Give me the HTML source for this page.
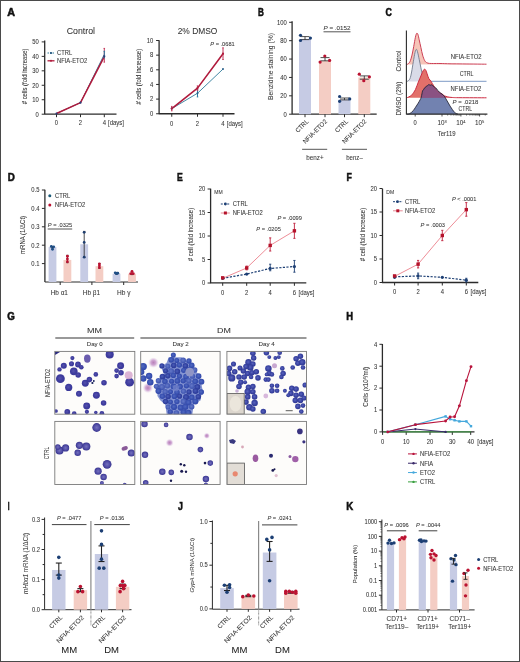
<!DOCTYPE html>
<html><head><meta charset="utf-8"><style>
html,body{margin:0;padding:0;background:#fff;}
svg{display:block;will-change:transform;}
text{font-family:"Liberation Sans", sans-serif;}
</style></head><body>
<svg width="520" height="662" viewBox="0 0 520 662" font-family='"Liberation Sans", sans-serif'>
<defs><radialGradient id="gv" cx="0.45" cy="0.45" r="0.6"><stop offset="0" stop-color="#5552ad"/><stop offset="0.55" stop-color="#3e3c9e"/><stop offset="1" stop-color="#3a3898"/></radialGradient>
<radialGradient id="gb" cx="0.45" cy="0.45" r="0.6"><stop offset="0" stop-color="#5068c0"/><stop offset="0.6" stop-color="#3850b0"/><stop offset="1" stop-color="#3448a8"/></radialGradient>
<radialGradient id="gb2" cx="0.45" cy="0.45" r="0.6"><stop offset="0" stop-color="#6478c8"/><stop offset="0.6" stop-color="#4a60b8"/><stop offset="1" stop-color="#3c50aa"/></radialGradient>
<radialGradient id="gp" cx="0.5" cy="0.5" r="0.5"><stop offset="0" stop-color="#b880b8"/><stop offset="0.5" stop-color="#d0a8d4"/><stop offset="1" stop-color="#eadcee" stop-opacity="0.2"/></radialGradient>
<radialGradient id="gd4" cx="0.45" cy="0.45" r="0.6"><stop offset="0" stop-color="#5862bc"/><stop offset="0.55" stop-color="#3a44a2"/><stop offset="1" stop-color="#2e3690"/></radialGradient>
<radialGradient id="gb3" cx="0.45" cy="0.45" r="0.6"><stop offset="0" stop-color="#4a5cb8"/><stop offset="0.6" stop-color="#3242a0"/><stop offset="1" stop-color="#2c3a98"/></radialGradient>
<radialGradient id="gl" cx="0.5" cy="0.5" r="0.5"><stop offset="0" stop-color="#7470bc"/><stop offset="0.55" stop-color="#5652aa"/><stop offset="1" stop-color="#3a3690"/></radialGradient><clipPath id="cl00"><rect x="54.8" y="351.4" width="80.00000000000001" height="62.80000000000001"/></clipPath><clipPath id="cl01"><rect x="140.7" y="351.4" width="79.4" height="62.80000000000001"/></clipPath><clipPath id="cl02"><rect x="226.9" y="351.4" width="79.6" height="62.80000000000001"/></clipPath><clipPath id="cl10"><rect x="54.8" y="421.4" width="80.00000000000001" height="63.10000000000002"/></clipPath><clipPath id="cl11"><rect x="140.7" y="421.4" width="79.4" height="63.10000000000002"/></clipPath><clipPath id="cl12"><rect x="226.9" y="421.4" width="79.6" height="63.10000000000002"/></clipPath></defs>
<rect x="0" y="0" width="520" height="662" fill="#fff"/>
<text transform="translate(7.17,15.80) scale(0.987,1)" x="-0.00" y="0" font-size="10.9" font-weight="bold" fill="#111" stroke="#111" stroke-width="0.55">A</text>
<text x="80.90" y="33.61" font-size="9.2" text-anchor="middle" fill="#333" stroke="#333" stroke-width="0.06" textLength="28.20" lengthAdjust="spacingAndGlyphs">Control</text>
<line x1="44.70" y1="40.50" x2="44.70" y2="114.20" stroke="#2b2b2b" stroke-width="1.3"/>
<line x1="41.70" y1="114.20" x2="44.70" y2="114.20" stroke="#2b2b2b" stroke-width="1"/>
<text x="38.70" y="116.50" font-size="6.4" text-anchor="end" fill="#363636" stroke="#363636" stroke-width="0.06" textLength="3.27" lengthAdjust="spacingAndGlyphs">0</text>
<line x1="41.70" y1="99.74" x2="44.70" y2="99.74" stroke="#2b2b2b" stroke-width="1"/>
<text x="38.70" y="102.04" font-size="6.4" text-anchor="end" fill="#363636" stroke="#363636" stroke-width="0.06" textLength="6.55" lengthAdjust="spacingAndGlyphs">10</text>
<line x1="41.70" y1="85.28" x2="44.70" y2="85.28" stroke="#2b2b2b" stroke-width="1"/>
<text x="38.70" y="87.58" font-size="6.4" text-anchor="end" fill="#363636" stroke="#363636" stroke-width="0.06" textLength="6.55" lengthAdjust="spacingAndGlyphs">20</text>
<line x1="41.70" y1="70.82" x2="44.70" y2="70.82" stroke="#2b2b2b" stroke-width="1"/>
<text x="38.70" y="73.12" font-size="6.4" text-anchor="end" fill="#363636" stroke="#363636" stroke-width="0.06" textLength="6.55" lengthAdjust="spacingAndGlyphs">30</text>
<line x1="41.70" y1="56.36" x2="44.70" y2="56.36" stroke="#2b2b2b" stroke-width="1"/>
<text x="38.70" y="58.66" font-size="6.4" text-anchor="end" fill="#363636" stroke="#363636" stroke-width="0.06" textLength="6.55" lengthAdjust="spacingAndGlyphs">40</text>
<line x1="41.70" y1="41.90" x2="44.70" y2="41.90" stroke="#2b2b2b" stroke-width="1"/>
<text x="38.70" y="44.20" font-size="6.4" text-anchor="end" fill="#363636" stroke="#363636" stroke-width="0.06" textLength="6.55" lengthAdjust="spacingAndGlyphs">50</text>
<line x1="44.50" y1="114.20" x2="116.50" y2="114.20" stroke="#2b2b2b" stroke-width="1.3"/>
<line x1="56.50" y1="114.20" x2="56.50" y2="117.20" stroke="#2b2b2b" stroke-width="1"/>
<text x="56.50" y="125.30" font-size="6.4" text-anchor="middle" fill="#363636" stroke="#363636" stroke-width="0.06" textLength="3.27" lengthAdjust="spacingAndGlyphs">0</text>
<line x1="80.50" y1="114.20" x2="80.50" y2="117.20" stroke="#2b2b2b" stroke-width="1"/>
<text x="80.50" y="125.30" font-size="6.4" text-anchor="middle" fill="#363636" stroke="#363636" stroke-width="0.06" textLength="3.27" lengthAdjust="spacingAndGlyphs">2</text>
<line x1="104.30" y1="114.20" x2="104.30" y2="117.20" stroke="#2b2b2b" stroke-width="1"/>
<text x="104.30" y="125.34" font-size="6.5" text-anchor="middle" fill="#363636" stroke="#363636" stroke-width="0.06" textLength="3.33" lengthAdjust="spacingAndGlyphs">4</text>
<text x="108.00" y="125.34" font-size="6.5" text-anchor="start" fill="#363636" stroke="#363636" stroke-width="0.06" textLength="15.95" lengthAdjust="spacingAndGlyphs">[days]</text>
<text x="24.60" y="78.67" font-size="6.3" text-anchor="middle" fill="#363636" stroke="#363636" stroke-width="0.06" textLength="55.80" lengthAdjust="spacingAndGlyphs" transform="rotate(-90 24.60 76.40)"># cells (fold increase)</text>
<line x1="47.50" y1="53.00" x2="54.50" y2="53.00" stroke="#2f7c9b" stroke-width="1" stroke-dasharray="1.5,1"/>
<circle cx="51.00" cy="53.00" r="1.10" fill="#1d4f7a"/>
<text x="57.00" y="55.27" font-size="6.3" text-anchor="start" fill="#363636" stroke="#363636" stroke-width="0.06" textLength="15.13" lengthAdjust="spacingAndGlyphs">CTRL</text>
<line x1="47.50" y1="60.80" x2="54.50" y2="60.80" stroke="#b01a3c" stroke-width="1.3"/>
<circle cx="51.00" cy="60.80" r="1.00" fill="#b01a3c"/>
<text x="57.00" y="63.07" font-size="6.3" text-anchor="start" fill="#363636" stroke="#363636" stroke-width="0.06" textLength="30.16" lengthAdjust="spacingAndGlyphs">NFIA-ETO2</text>
<polyline points="56.50,113.48 80.50,102.63 104.30,54.48" fill="none" stroke="#2f7c9b" stroke-width="1" stroke-linejoin="round"/>
<polyline points="56.50,113.48 80.50,102.63 104.30,56.65" fill="none" stroke="#b01a3c" stroke-width="1.5" stroke-linejoin="round"/>
<line x1="104.30" y1="48.41" x2="104.30" y2="62.14" stroke="#c2375a" stroke-width="1"/>
<line x1="103.55" y1="48.41" x2="105.05" y2="48.41" stroke="#c2375a" stroke-width="1"/>
<line x1="103.55" y1="62.14" x2="105.05" y2="62.14" stroke="#c2375a" stroke-width="1"/>
<line x1="104.30" y1="51.30" x2="104.30" y2="57.81" stroke="#2a7aa0" stroke-width="1"/>
<line x1="103.55" y1="51.30" x2="105.05" y2="51.30" stroke="#2a7aa0" stroke-width="1"/>
<line x1="103.55" y1="57.81" x2="105.05" y2="57.81" stroke="#2a7aa0" stroke-width="1"/>
<circle cx="56.50" cy="113.48" r="1.10" fill="#2a3f7a"/>
<circle cx="80.50" cy="102.63" r="1.10" fill="#2a3f7a"/>
<circle cx="104.30" cy="56.36" r="1.10" fill="#2a3f7a"/>
<text x="197.50" y="33.90" font-size="9.3" text-anchor="middle" fill="#333" stroke="#333" stroke-width="0.06" textLength="39.60" lengthAdjust="spacingAndGlyphs">2% DMSO</text>
<line x1="159.10" y1="40.20" x2="159.10" y2="113.75" stroke="#2b2b2b" stroke-width="1.3"/>
<line x1="156.10" y1="113.75" x2="159.10" y2="113.75" stroke="#2b2b2b" stroke-width="1"/>
<text x="153.30" y="116.05" font-size="6.4" text-anchor="end" fill="#363636" stroke="#363636" stroke-width="0.06" textLength="3.27" lengthAdjust="spacingAndGlyphs">0</text>
<line x1="156.10" y1="99.10" x2="159.10" y2="99.10" stroke="#2b2b2b" stroke-width="1"/>
<text x="153.30" y="101.40" font-size="6.4" text-anchor="end" fill="#363636" stroke="#363636" stroke-width="0.06" textLength="3.27" lengthAdjust="spacingAndGlyphs">2</text>
<line x1="156.10" y1="84.45" x2="159.10" y2="84.45" stroke="#2b2b2b" stroke-width="1"/>
<text x="153.30" y="86.75" font-size="6.4" text-anchor="end" fill="#363636" stroke="#363636" stroke-width="0.06" textLength="3.27" lengthAdjust="spacingAndGlyphs">4</text>
<line x1="156.10" y1="69.80" x2="159.10" y2="69.80" stroke="#2b2b2b" stroke-width="1"/>
<text x="153.30" y="72.10" font-size="6.4" text-anchor="end" fill="#363636" stroke="#363636" stroke-width="0.06" textLength="3.27" lengthAdjust="spacingAndGlyphs">6</text>
<line x1="156.10" y1="55.15" x2="159.10" y2="55.15" stroke="#2b2b2b" stroke-width="1"/>
<text x="153.30" y="57.45" font-size="6.4" text-anchor="end" fill="#363636" stroke="#363636" stroke-width="0.06" textLength="3.27" lengthAdjust="spacingAndGlyphs">8</text>
<line x1="156.10" y1="40.50" x2="159.10" y2="40.50" stroke="#2b2b2b" stroke-width="1"/>
<text x="153.30" y="42.80" font-size="6.4" text-anchor="end" fill="#363636" stroke="#363636" stroke-width="0.06" textLength="6.55" lengthAdjust="spacingAndGlyphs">10</text>
<line x1="158.75" y1="113.75" x2="234.50" y2="113.75" stroke="#2b2b2b" stroke-width="1.3"/>
<line x1="171.75" y1="113.75" x2="171.75" y2="116.75" stroke="#2b2b2b" stroke-width="1"/>
<text x="171.75" y="125.80" font-size="6.4" text-anchor="middle" fill="#363636" stroke="#363636" stroke-width="0.06" textLength="3.27" lengthAdjust="spacingAndGlyphs">0</text>
<line x1="197.50" y1="113.75" x2="197.50" y2="116.75" stroke="#2b2b2b" stroke-width="1"/>
<text x="197.50" y="125.80" font-size="6.4" text-anchor="middle" fill="#363636" stroke="#363636" stroke-width="0.06" textLength="3.27" lengthAdjust="spacingAndGlyphs">2</text>
<line x1="223.00" y1="113.75" x2="223.00" y2="116.75" stroke="#2b2b2b" stroke-width="1"/>
<text x="223.00" y="125.84" font-size="6.5" text-anchor="middle" fill="#363636" stroke="#363636" stroke-width="0.06" textLength="3.33" lengthAdjust="spacingAndGlyphs">4</text>
<text x="226.80" y="125.84" font-size="6.5" text-anchor="start" fill="#363636" stroke="#363636" stroke-width="0.06" textLength="15.95" lengthAdjust="spacingAndGlyphs">[days]</text>
<text x="139.20" y="78.97" font-size="6.3" text-anchor="middle" fill="#363636" stroke="#363636" stroke-width="0.06" textLength="55.60" lengthAdjust="spacingAndGlyphs" transform="rotate(-90 139.20 76.70)"># cells (fold increase)</text>
<text x="222.50" y="45.98" font-size="6.2" text-anchor="middle" fill="#363636" stroke="#363636" stroke-width="0.06" textLength="24.50" lengthAdjust="spacingAndGlyphs"><tspan font-style="italic">P</tspan> = .0681</text>
<polyline points="171.75,108.62 197.50,93.24 223.00,69.07" fill="none" stroke="#2f7c9b" stroke-width="0.9" stroke-linejoin="round"/>
<polyline points="171.75,108.62 197.50,88.11 223.00,53.69" fill="none" stroke="#b01a3c" stroke-width="1.6" stroke-linejoin="round"/>
<line x1="171.75" y1="106.42" x2="171.75" y2="110.82" stroke="#c2375a" stroke-width="1"/>
<line x1="171.00" y1="106.42" x2="172.50" y2="106.42" stroke="#c2375a" stroke-width="1"/>
<line x1="171.00" y1="110.82" x2="172.50" y2="110.82" stroke="#c2375a" stroke-width="1"/>
<line x1="197.50" y1="89.58" x2="197.50" y2="96.90" stroke="#2a7aa0" stroke-width="1"/>
<line x1="196.75" y1="89.58" x2="198.25" y2="89.58" stroke="#2a7aa0" stroke-width="1"/>
<line x1="196.75" y1="96.90" x2="198.25" y2="96.90" stroke="#2a7aa0" stroke-width="1"/>
<line x1="197.50" y1="85.91" x2="197.50" y2="90.31" stroke="#c2375a" stroke-width="1"/>
<line x1="196.75" y1="85.91" x2="198.25" y2="85.91" stroke="#c2375a" stroke-width="1"/>
<line x1="196.75" y1="90.31" x2="198.25" y2="90.31" stroke="#c2375a" stroke-width="1"/>
<line x1="223.00" y1="47.83" x2="223.00" y2="59.54" stroke="#c2375a" stroke-width="1"/>
<line x1="222.25" y1="47.83" x2="223.75" y2="47.83" stroke="#c2375a" stroke-width="1"/>
<line x1="222.25" y1="59.54" x2="223.75" y2="59.54" stroke="#c2375a" stroke-width="1"/>
<circle cx="171.75" cy="108.62" r="1.00" fill="#2a5f8a"/>
<circle cx="197.50" cy="93.24" r="1.00" fill="#2a5f8a"/>
<circle cx="223.00" cy="69.07" r="1.00" fill="#2a5f8a"/>
<circle cx="171.75" cy="108.62" r="1.10" fill="#b01a3c"/>
<circle cx="197.50" cy="88.11" r="1.10" fill="#b01a3c"/>
<circle cx="223.00" cy="53.69" r="1.10" fill="#b01a3c"/>
<text transform="translate(258.06,15.80) scale(0.746,1)" x="-0.00" y="0" font-size="10.9" font-weight="bold" fill="#111" stroke="#111" stroke-width="0.55">B</text>
<line x1="292.10" y1="21.30" x2="292.10" y2="114.20" stroke="#2b2b2b" stroke-width="1.3"/>
<line x1="289.10" y1="114.20" x2="292.10" y2="114.20" stroke="#2b2b2b" stroke-width="1"/>
<text x="286.70" y="116.50" font-size="6.4" text-anchor="end" fill="#363636" stroke="#363636" stroke-width="0.06" textLength="3.27" lengthAdjust="spacingAndGlyphs">0</text>
<line x1="289.10" y1="95.82" x2="292.10" y2="95.82" stroke="#2b2b2b" stroke-width="1"/>
<text x="286.70" y="98.12" font-size="6.4" text-anchor="end" fill="#363636" stroke="#363636" stroke-width="0.06" textLength="6.55" lengthAdjust="spacingAndGlyphs">20</text>
<line x1="289.10" y1="77.44" x2="292.10" y2="77.44" stroke="#2b2b2b" stroke-width="1"/>
<text x="286.70" y="79.74" font-size="6.4" text-anchor="end" fill="#363636" stroke="#363636" stroke-width="0.06" textLength="6.55" lengthAdjust="spacingAndGlyphs">40</text>
<line x1="289.10" y1="59.06" x2="292.10" y2="59.06" stroke="#2b2b2b" stroke-width="1"/>
<text x="286.70" y="61.36" font-size="6.4" text-anchor="end" fill="#363636" stroke="#363636" stroke-width="0.06" textLength="6.55" lengthAdjust="spacingAndGlyphs">60</text>
<line x1="289.10" y1="40.68" x2="292.10" y2="40.68" stroke="#2b2b2b" stroke-width="1"/>
<text x="286.70" y="42.98" font-size="6.4" text-anchor="end" fill="#363636" stroke="#363636" stroke-width="0.06" textLength="6.55" lengthAdjust="spacingAndGlyphs">80</text>
<line x1="289.10" y1="22.30" x2="292.10" y2="22.30" stroke="#2b2b2b" stroke-width="1"/>
<text x="286.70" y="24.60" font-size="6.4" text-anchor="end" fill="#363636" stroke="#363636" stroke-width="0.06" textLength="9.82" lengthAdjust="spacingAndGlyphs">100</text>
<line x1="292.10" y1="114.20" x2="376.70" y2="114.20" stroke="#2b2b2b" stroke-width="1.3"/>
<rect x="299.00" y="38.84" width="12.00" height="75.36" fill="#c6cbe4"/>
<line x1="305.00" y1="114.20" x2="305.00" y2="117.20" stroke="#2b2b2b" stroke-width="1"/>
<rect x="319.00" y="60.90" width="12.00" height="53.30" fill="#f4cdc4"/>
<line x1="325.00" y1="114.20" x2="325.00" y2="117.20" stroke="#2b2b2b" stroke-width="1"/>
<rect x="338.50" y="99.50" width="12.00" height="14.70" fill="#c6cbe4"/>
<line x1="344.50" y1="114.20" x2="344.50" y2="117.20" stroke="#2b2b2b" stroke-width="1"/>
<rect x="358.30" y="77.44" width="12.00" height="36.76" fill="#f4cdc4"/>
<line x1="364.30" y1="114.20" x2="364.30" y2="117.20" stroke="#2b2b2b" stroke-width="1"/>
<text x="270.00" y="69.41" font-size="7.8" text-anchor="middle" fill="#363636" stroke="#363636" stroke-width="0.06" textLength="67.00" lengthAdjust="spacingAndGlyphs" transform="rotate(-90 270.00 66.60)">Benzidine staining (%)</text>
<text x="337.00" y="29.73" font-size="6.2" text-anchor="middle" fill="#363636" stroke="#363636" stroke-width="0.06" textLength="27.00" lengthAdjust="spacingAndGlyphs"><tspan font-style="italic">P</tspan> = .0152</text>
<line x1="323.50" y1="31.80" x2="350.50" y2="31.80" stroke="#2b2b2b" stroke-width="0.8"/>
<line x1="300.50" y1="36.60" x2="309.50" y2="36.60" stroke="#222" stroke-width="0.8"/>
<line x1="300.50" y1="39.60" x2="309.50" y2="39.60" stroke="#222" stroke-width="0.8"/>
<line x1="305.00" y1="36.60" x2="305.00" y2="39.60" stroke="#222" stroke-width="0.8"/>
<circle cx="300.50" cy="35.30" r="1.60" fill="#1c3f74"/>
<circle cx="300.50" cy="40.50" r="1.60" fill="#1c3f74"/>
<circle cx="310.40" cy="38.10" r="1.60" fill="#1c3f74"/>
<line x1="320.50" y1="57.60" x2="329.50" y2="57.60" stroke="#222" stroke-width="0.8"/>
<line x1="320.50" y1="60.80" x2="329.50" y2="60.80" stroke="#222" stroke-width="0.8"/>
<line x1="325.00" y1="57.60" x2="325.00" y2="60.80" stroke="#222" stroke-width="0.8"/>
<circle cx="324.80" cy="56.00" r="1.60" fill="#bb1231"/>
<circle cx="320.10" cy="62.10" r="1.60" fill="#bb1231"/>
<circle cx="329.60" cy="60.40" r="1.60" fill="#bb1231"/>
<line x1="340.00" y1="98.00" x2="349.00" y2="98.00" stroke="#222" stroke-width="0.8"/>
<line x1="340.00" y1="99.90" x2="349.00" y2="99.90" stroke="#222" stroke-width="0.8"/>
<line x1="344.50" y1="98.00" x2="344.50" y2="99.90" stroke="#222" stroke-width="0.8"/>
<circle cx="339.60" cy="96.50" r="1.60" fill="#1c3f74"/>
<circle cx="339.60" cy="101.30" r="1.60" fill="#1c3f74"/>
<circle cx="349.70" cy="98.90" r="1.60" fill="#1c3f74"/>
<line x1="359.80" y1="75.90" x2="368.80" y2="75.90" stroke="#222" stroke-width="0.8"/>
<line x1="359.80" y1="79.20" x2="368.80" y2="79.20" stroke="#222" stroke-width="0.8"/>
<line x1="364.30" y1="75.90" x2="364.30" y2="79.20" stroke="#222" stroke-width="0.8"/>
<circle cx="359.30" cy="74.20" r="1.60" fill="#bb1231"/>
<circle cx="363.80" cy="80.70" r="1.60" fill="#bb1231"/>
<circle cx="369.40" cy="76.80" r="1.60" fill="#bb1231"/>
<text x="309.00" y="122.00" font-size="6.5" text-anchor="end" fill="#363636" stroke="#363636" stroke-width="0.06" textLength="15.62" lengthAdjust="spacingAndGlyphs" transform="rotate(-45 309.00 122.00)">CTRL</text>
<text x="327.50" y="122.00" font-size="6.5" text-anchor="end" fill="#363636" stroke="#363636" stroke-width="0.06" textLength="31.12" lengthAdjust="spacingAndGlyphs" transform="rotate(-45 327.50 122.00)">NFIA-ETO2</text>
<text x="348.50" y="122.00" font-size="6.5" text-anchor="end" fill="#363636" stroke="#363636" stroke-width="0.06" textLength="15.62" lengthAdjust="spacingAndGlyphs" transform="rotate(-45 348.50 122.00)">CTRL</text>
<text x="366.80" y="122.00" font-size="6.5" text-anchor="end" fill="#363636" stroke="#363636" stroke-width="0.06" textLength="31.12" lengthAdjust="spacingAndGlyphs" transform="rotate(-45 366.80 122.00)">NFIA-ETO2</text>
<line x1="302.10" y1="149.30" x2="327.20" y2="149.30" stroke="#555" stroke-width="1.0"/>
<line x1="341.90" y1="149.30" x2="367.00" y2="149.30" stroke="#555" stroke-width="1.0"/>
<text x="315.00" y="159.94" font-size="6.5" text-anchor="middle" fill="#363636" stroke="#363636" stroke-width="0.06" textLength="17.30" lengthAdjust="spacingAndGlyphs">benz+</text>
<text x="354.50" y="159.94" font-size="6.5" text-anchor="middle" fill="#363636" stroke="#363636" stroke-width="0.06" textLength="16.50" lengthAdjust="spacingAndGlyphs">benz–</text>
<text transform="translate(385.56,15.80) scale(0.809,1)" x="-0.00" y="0" font-size="10.9" font-weight="bold" fill="#111" stroke="#111" stroke-width="0.55">C</text>
<path d="M406.80,64.40 C406.90,64.38 406.88,64.73 407.40,64.30 C407.92,63.87 409.13,63.33 409.90,61.80 C410.67,60.27 411.37,57.63 412.00,55.10 C412.63,52.57 413.13,49.57 413.70,46.60 C414.27,43.63 414.90,39.52 415.40,37.30 C415.90,35.08 416.27,33.75 416.70,33.30 C417.13,32.85 417.58,33.52 418.00,34.60 C418.42,35.68 418.72,37.65 419.20,39.80 C419.68,41.95 420.33,44.95 420.90,47.50 C421.47,50.05 421.97,52.92 422.60,55.10 C423.23,57.28 424.00,59.33 424.70,60.60 C425.40,61.87 426.02,62.23 426.80,62.70 C427.58,63.17 428.27,63.27 429.40,63.40 C430.53,63.53 431.83,63.48 433.60,63.50 C435.37,63.52 437.27,63.45 440.00,63.50 C442.73,63.55 446.67,63.73 450.00,63.80 C453.33,63.87 453.92,63.83 460.00,63.90 C466.08,63.97 482.08,64.15 486.50,64.20 Z" fill="#f6c4b8" opacity="1" />
<path d="M406.80,64.40 C406.90,64.38 406.88,64.73 407.40,64.30 C407.92,63.87 409.13,63.33 409.90,61.80 C410.67,60.27 411.37,57.63 412.00,55.10 C412.63,52.57 413.13,49.57 413.70,46.60 C414.27,43.63 414.90,39.52 415.40,37.30 C415.90,35.08 416.27,33.75 416.70,33.30 C417.13,32.85 417.58,33.52 418.00,34.60 C418.42,35.68 418.72,37.65 419.20,39.80 C419.68,41.95 420.33,44.95 420.90,47.50 C421.47,50.05 421.97,52.92 422.60,55.10 C423.23,57.28 424.00,59.33 424.70,60.60 C425.40,61.87 426.02,62.23 426.80,62.70 C427.58,63.17 428.27,63.27 429.40,63.40 C430.53,63.53 431.83,63.48 433.60,63.50 C435.37,63.52 437.27,63.45 440.00,63.50 C442.73,63.55 446.67,63.73 450.00,63.80 C453.33,63.87 453.92,63.83 460.00,63.90 C466.08,63.97 482.08,64.15 486.50,64.20" fill="none" stroke="#cc3f55" stroke-width="1.0" />
<path d="M406.80,81.40 C406.90,81.38 406.88,81.73 407.40,81.30 C407.92,80.87 409.20,80.35 409.90,78.80 C410.60,77.25 411.03,74.83 411.60,72.00 C412.17,69.17 412.73,65.05 413.30,61.80 C413.87,58.55 414.50,54.57 415.00,52.50 C415.50,50.43 415.88,49.53 416.30,49.40 C416.72,49.27 417.02,50.05 417.50,51.70 C417.98,53.35 418.63,56.62 419.20,59.30 C419.77,61.98 420.40,65.40 420.90,67.80 C421.40,70.20 421.77,72.02 422.20,73.70 C422.63,75.38 423.00,76.77 423.50,77.90 C424.00,79.03 424.22,79.93 425.20,80.50 C426.18,81.07 428.43,81.15 429.40,81.30 C430.37,81.45 430.73,81.38 431.00,81.40 Z" fill="#d9dbe8" opacity="1" />
<path d="M406.80,81.40 C406.90,81.38 406.88,81.73 407.40,81.30 C407.92,80.87 409.20,80.35 409.90,78.80 C410.60,77.25 411.03,74.83 411.60,72.00 C412.17,69.17 412.73,65.05 413.30,61.80 C413.87,58.55 414.50,54.57 415.00,52.50 C415.50,50.43 415.88,49.53 416.30,49.40 C416.72,49.27 417.02,50.05 417.50,51.70 C417.98,53.35 418.63,56.62 419.20,59.30 C419.77,61.98 420.40,65.40 420.90,67.80 C421.40,70.20 421.77,72.02 422.20,73.70 C422.63,75.38 423.00,76.77 423.50,77.90 C424.00,79.03 424.22,79.93 425.20,80.50 C426.18,81.07 428.43,81.15 429.40,81.30 C430.37,81.45 430.73,81.38 431.00,81.40" fill="none" stroke="#727a8c" stroke-width="0.9" />
<line x1="426.00" y1="81.30" x2="486.50" y2="81.30" stroke="#6e8fc0" stroke-width="0.9"/>
<path d="M406.80,97.60 C406.92,97.58 406.97,97.72 407.50,97.50 C408.03,97.28 409.23,96.78 410.00,96.30 C410.77,95.82 411.18,95.75 412.10,94.60 C413.02,93.45 414.45,91.52 415.50,89.40 C416.55,87.28 417.43,84.30 418.40,81.90 C419.37,79.50 420.53,76.82 421.30,75.00 C422.07,73.18 422.47,71.97 423.00,71.00 C423.53,70.03 424.02,69.30 424.50,69.20 C424.98,69.10 425.47,69.63 425.90,70.40 C426.33,71.17 426.62,72.45 427.10,73.80 C427.58,75.15 428.13,77.25 428.80,78.50 C429.47,79.75 430.52,80.45 431.10,81.30 C431.68,82.15 431.72,82.63 432.30,83.60 C432.88,84.57 433.83,85.93 434.60,87.10 C435.37,88.27 436.03,89.63 436.90,90.60 C437.77,91.57 438.93,92.33 439.80,92.90 C440.67,93.47 441.33,93.52 442.10,94.00 C442.87,94.48 443.45,95.32 444.40,95.80 C445.35,96.28 446.47,96.62 447.80,96.90 C449.13,97.18 450.37,97.37 452.40,97.50 C454.43,97.63 454.32,97.65 460.00,97.70 C465.68,97.75 482.08,97.78 486.50,97.80 Z" fill="#e2706a" opacity="1" />
<path d="M406.80,97.60 C406.92,97.58 406.97,97.72 407.50,97.50 C408.03,97.28 409.23,96.78 410.00,96.30 C410.77,95.82 411.18,95.75 412.10,94.60 C413.02,93.45 414.45,91.52 415.50,89.40 C416.55,87.28 417.43,84.30 418.40,81.90 C419.37,79.50 420.53,76.82 421.30,75.00 C422.07,73.18 422.47,71.97 423.00,71.00 C423.53,70.03 424.02,69.30 424.50,69.20 C424.98,69.10 425.47,69.63 425.90,70.40 C426.33,71.17 426.62,72.45 427.10,73.80 C427.58,75.15 428.13,77.25 428.80,78.50 C429.47,79.75 430.52,80.45 431.10,81.30 C431.68,82.15 431.72,82.63 432.30,83.60 C432.88,84.57 433.83,85.93 434.60,87.10 C435.37,88.27 436.03,89.63 436.90,90.60 C437.77,91.57 438.93,92.33 439.80,92.90 C440.67,93.47 441.33,93.52 442.10,94.00 C442.87,94.48 443.45,95.32 444.40,95.80 C445.35,96.28 446.47,96.62 447.80,96.90 C449.13,97.18 450.37,97.37 452.40,97.50 C454.43,97.63 454.32,97.65 460.00,97.70 C465.68,97.75 482.08,97.78 486.50,97.80" fill="none" stroke="#cc2a40" stroke-width="1.0" />
<path d="M406.80,114.20 C407.30,114.10 408.73,114.18 409.80,113.60 C410.87,113.02 412.25,111.75 413.20,110.70 C414.15,109.65 414.73,108.45 415.50,107.30 C416.27,106.15 417.03,105.05 417.80,103.80 C418.57,102.55 419.52,100.95 420.10,99.80 C420.68,98.65 420.90,98.35 421.30,96.90 C421.70,95.45 422.12,92.32 422.50,91.10 C422.88,89.88 423.32,90.07 423.60,89.60 C423.88,89.13 423.92,88.63 424.20,88.30 C424.48,87.97 424.92,87.98 425.30,87.60 C425.68,87.22 426.12,86.33 426.50,86.00 C426.88,85.67 427.22,85.83 427.60,85.60 C427.98,85.37 428.37,84.67 428.80,84.60 C429.23,84.53 429.72,85.17 430.20,85.20 C430.68,85.23 431.27,84.68 431.70,84.80 C432.13,84.92 432.42,85.62 432.80,85.90 C433.18,86.18 433.60,86.17 434.00,86.50 C434.40,86.83 434.82,87.60 435.20,87.90 C435.58,88.20 435.92,87.92 436.30,88.30 C436.68,88.68 437.12,89.73 437.50,90.20 C437.88,90.67 438.22,90.70 438.60,91.10 C438.98,91.50 439.42,92.22 439.80,92.60 C440.18,92.98 440.52,93.15 440.90,93.40 C441.28,93.65 441.72,93.80 442.10,94.10 C442.48,94.40 442.82,94.83 443.20,95.20 C443.58,95.57 444.02,95.82 444.40,96.30 C444.78,96.78 444.93,97.13 445.50,98.10 C446.07,99.07 447.03,100.77 447.80,102.10 C448.57,103.43 449.33,104.85 450.10,106.10 C450.87,107.35 451.63,108.53 452.40,109.60 C453.17,110.67 454.02,111.83 454.70,112.50 C455.38,113.17 455.95,113.32 456.50,113.60 C457.05,113.88 457.75,114.10 458.00,114.20 Z" fill="#7282b0" />
<clipPath id="c4clip"><path d="M406.80,114.20 C407.30,114.10 408.73,114.18 409.80,113.60 C410.87,113.02 412.25,111.75 413.20,110.70 C414.15,109.65 414.73,108.45 415.50,107.30 C416.27,106.15 417.03,105.05 417.80,103.80 C418.57,102.55 419.52,100.95 420.10,99.80 C420.68,98.65 420.90,98.35 421.30,96.90 C421.70,95.45 422.12,92.32 422.50,91.10 C422.88,89.88 423.32,90.07 423.60,89.60 C423.88,89.13 423.92,88.63 424.20,88.30 C424.48,87.97 424.92,87.98 425.30,87.60 C425.68,87.22 426.12,86.33 426.50,86.00 C426.88,85.67 427.22,85.83 427.60,85.60 C427.98,85.37 428.37,84.67 428.80,84.60 C429.23,84.53 429.72,85.17 430.20,85.20 C430.68,85.23 431.27,84.68 431.70,84.80 C432.13,84.92 432.42,85.62 432.80,85.90 C433.18,86.18 433.60,86.17 434.00,86.50 C434.40,86.83 434.82,87.60 435.20,87.90 C435.58,88.20 435.92,87.92 436.30,88.30 C436.68,88.68 437.12,89.73 437.50,90.20 C437.88,90.67 438.22,90.70 438.60,91.10 C438.98,91.50 439.42,92.22 439.80,92.60 C440.18,92.98 440.52,93.15 440.90,93.40 C441.28,93.65 441.72,93.80 442.10,94.10 C442.48,94.40 442.82,94.83 443.20,95.20 C443.58,95.57 444.02,95.82 444.40,96.30 C444.78,96.78 444.93,97.13 445.50,98.10 C446.07,99.07 447.03,100.77 447.80,102.10 C448.57,103.43 449.33,104.85 450.10,106.10 C450.87,107.35 451.63,108.53 452.40,109.60 C453.17,110.67 454.02,111.83 454.70,112.50 C455.38,113.17 455.95,113.32 456.50,113.60 C457.05,113.88 457.75,114.10 458.00,114.20 Z"/></clipPath>
<path d="M406.80,97.60 C406.92,97.58 406.97,97.72 407.50,97.50 C408.03,97.28 409.23,96.78 410.00,96.30 C410.77,95.82 411.18,95.75 412.10,94.60 C413.02,93.45 414.45,91.52 415.50,89.40 C416.55,87.28 417.43,84.30 418.40,81.90 C419.37,79.50 420.53,76.82 421.30,75.00 C422.07,73.18 422.47,71.97 423.00,71.00 C423.53,70.03 424.02,69.30 424.50,69.20 C424.98,69.10 425.47,69.63 425.90,70.40 C426.33,71.17 426.62,72.45 427.10,73.80 C427.58,75.15 428.13,77.25 428.80,78.50 C429.47,79.75 430.52,80.45 431.10,81.30 C431.68,82.15 431.72,82.63 432.30,83.60 C432.88,84.57 433.83,85.93 434.60,87.10 C435.37,88.27 436.03,89.63 436.90,90.60 C437.77,91.57 438.93,92.33 439.80,92.90 C440.67,93.47 441.33,93.52 442.10,94.00 C442.87,94.48 443.45,95.32 444.40,95.80 C445.35,96.28 446.47,96.62 447.80,96.90 C449.13,97.18 450.37,97.37 452.40,97.50 C454.43,97.63 454.32,97.65 460.00,97.70 C465.68,97.75 482.08,97.78 486.50,97.80 Z" fill="#8a5282" clip-path="url(#c4clip)"/>
<path d="M406.80,97.60 C406.92,97.58 406.97,97.72 407.50,97.50 C408.03,97.28 409.23,96.78 410.00,96.30 C410.77,95.82 411.18,95.75 412.10,94.60 C413.02,93.45 414.45,91.52 415.50,89.40 C416.55,87.28 417.43,84.30 418.40,81.90 C419.37,79.50 420.53,76.82 421.30,75.00 C422.07,73.18 422.47,71.97 423.00,71.00 C423.53,70.03 424.02,69.30 424.50,69.20 C424.98,69.10 425.47,69.63 425.90,70.40 C426.33,71.17 426.62,72.45 427.10,73.80 C427.58,75.15 428.13,77.25 428.80,78.50 C429.47,79.75 430.52,80.45 431.10,81.30 C431.68,82.15 431.72,82.63 432.30,83.60 C432.88,84.57 433.83,85.93 434.60,87.10 C435.37,88.27 436.03,89.63 436.90,90.60 C437.77,91.57 438.93,92.33 439.80,92.90 C440.67,93.47 441.33,93.52 442.10,94.00 C442.87,94.48 443.45,95.32 444.40,95.80 C445.35,96.28 446.47,96.62 447.80,96.90 C449.13,97.18 450.37,97.37 452.40,97.50 C454.43,97.63 454.32,97.65 460.00,97.70 C465.68,97.75 482.08,97.78 486.50,97.80" fill="none" stroke="#cc2a40" stroke-width="0.9" clip-path="url(#c4clip)" opacity="0.5"/>
<path d="M406.80,114.20 C407.30,114.10 408.73,114.18 409.80,113.60 C410.87,113.02 412.25,111.75 413.20,110.70 C414.15,109.65 414.73,108.45 415.50,107.30 C416.27,106.15 417.03,105.05 417.80,103.80 C418.57,102.55 419.52,100.95 420.10,99.80 C420.68,98.65 420.90,98.35 421.30,96.90 C421.70,95.45 422.12,92.32 422.50,91.10 C422.88,89.88 423.32,90.07 423.60,89.60 C423.88,89.13 423.92,88.63 424.20,88.30 C424.48,87.97 424.92,87.98 425.30,87.60 C425.68,87.22 426.12,86.33 426.50,86.00 C426.88,85.67 427.22,85.83 427.60,85.60 C427.98,85.37 428.37,84.67 428.80,84.60 C429.23,84.53 429.72,85.17 430.20,85.20 C430.68,85.23 431.27,84.68 431.70,84.80 C432.13,84.92 432.42,85.62 432.80,85.90 C433.18,86.18 433.60,86.17 434.00,86.50 C434.40,86.83 434.82,87.60 435.20,87.90 C435.58,88.20 435.92,87.92 436.30,88.30 C436.68,88.68 437.12,89.73 437.50,90.20 C437.88,90.67 438.22,90.70 438.60,91.10 C438.98,91.50 439.42,92.22 439.80,92.60 C440.18,92.98 440.52,93.15 440.90,93.40 C441.28,93.65 441.72,93.80 442.10,94.10 C442.48,94.40 442.82,94.83 443.20,95.20 C443.58,95.57 444.02,95.82 444.40,96.30 C444.78,96.78 444.93,97.13 445.50,98.10 C446.07,99.07 447.03,100.77 447.80,102.10 C448.57,103.43 449.33,104.85 450.10,106.10 C450.87,107.35 451.63,108.53 452.40,109.60 C453.17,110.67 454.02,111.83 454.70,112.50 C455.38,113.17 455.95,113.32 456.50,113.60 C457.05,113.88 457.75,114.10 458.00,114.20" fill="none" stroke="#1a1a2a" stroke-width="0.8" />
<line x1="406.40" y1="30.50" x2="406.40" y2="114.40" stroke="#2b2b2b" stroke-width="1.1"/>
<line x1="406.40" y1="114.20" x2="487.40" y2="114.20" stroke="#2b2b2b" stroke-width="1.2"/>
<line x1="447.66" y1="114.20" x2="447.66" y2="115.60" stroke="#2b2b2b" stroke-width="0.6"/>
<line x1="450.97" y1="114.20" x2="450.97" y2="115.60" stroke="#2b2b2b" stroke-width="0.6"/>
<line x1="453.32" y1="114.20" x2="453.32" y2="115.60" stroke="#2b2b2b" stroke-width="0.6"/>
<line x1="455.14" y1="114.20" x2="455.14" y2="115.60" stroke="#2b2b2b" stroke-width="0.6"/>
<line x1="456.63" y1="114.20" x2="456.63" y2="115.60" stroke="#2b2b2b" stroke-width="0.6"/>
<line x1="457.89" y1="114.20" x2="457.89" y2="115.60" stroke="#2b2b2b" stroke-width="0.6"/>
<line x1="458.98" y1="114.20" x2="458.98" y2="115.60" stroke="#2b2b2b" stroke-width="0.6"/>
<line x1="459.94" y1="114.20" x2="459.94" y2="115.60" stroke="#2b2b2b" stroke-width="0.6"/>
<line x1="466.56" y1="114.20" x2="466.56" y2="115.60" stroke="#2b2b2b" stroke-width="0.6"/>
<line x1="469.87" y1="114.20" x2="469.87" y2="115.60" stroke="#2b2b2b" stroke-width="0.6"/>
<line x1="472.22" y1="114.20" x2="472.22" y2="115.60" stroke="#2b2b2b" stroke-width="0.6"/>
<line x1="474.04" y1="114.20" x2="474.04" y2="115.60" stroke="#2b2b2b" stroke-width="0.6"/>
<line x1="475.53" y1="114.20" x2="475.53" y2="115.60" stroke="#2b2b2b" stroke-width="0.6"/>
<line x1="476.79" y1="114.20" x2="476.79" y2="115.60" stroke="#2b2b2b" stroke-width="0.6"/>
<line x1="477.88" y1="114.20" x2="477.88" y2="115.60" stroke="#2b2b2b" stroke-width="0.6"/>
<line x1="478.84" y1="114.20" x2="478.84" y2="115.60" stroke="#2b2b2b" stroke-width="0.6"/>
<line x1="485.26" y1="114.20" x2="485.26" y2="115.60" stroke="#2b2b2b" stroke-width="0.6"/>
<line x1="415.20" y1="114.20" x2="415.20" y2="116.50" stroke="#2b2b2b" stroke-width="0.8"/>
<line x1="442.00" y1="114.20" x2="442.00" y2="116.50" stroke="#2b2b2b" stroke-width="0.8"/>
<line x1="460.90" y1="114.20" x2="460.90" y2="116.50" stroke="#2b2b2b" stroke-width="0.8"/>
<line x1="479.60" y1="114.20" x2="479.60" y2="116.50" stroke="#2b2b2b" stroke-width="0.8"/>
<text x="415.20" y="125.47" font-size="6.3" text-anchor="middle" fill="#363636" stroke="#363636" stroke-width="0.06" textLength="3.22" lengthAdjust="spacingAndGlyphs">0</text>
<text x="442.00" y="125.47" font-size="6.3" text-anchor="middle" fill="#363636" stroke="#363636" stroke-width="0.06">10<tspan dy="-2.5" font-size="4">3</tspan></text>
<text x="460.90" y="125.47" font-size="6.3" text-anchor="middle" fill="#363636" stroke="#363636" stroke-width="0.06">10<tspan dy="-2.5" font-size="4">4</tspan></text>
<text x="479.60" y="125.47" font-size="6.3" text-anchor="middle" fill="#363636" stroke="#363636" stroke-width="0.06">10<tspan dy="-2.5" font-size="4">5</tspan></text>
<text x="446.70" y="135.84" font-size="6.5" text-anchor="middle" fill="#363636" stroke="#363636" stroke-width="0.06" textLength="17.84" lengthAdjust="spacingAndGlyphs">Ter119</text>
<text x="466.20" y="59.27" font-size="6.3" text-anchor="middle" fill="#363636" stroke="#363636" stroke-width="0.06" textLength="30.80" lengthAdjust="spacingAndGlyphs">NFIA-ETO2</text>
<text x="466.60" y="75.87" font-size="6.3" text-anchor="middle" fill="#363636" stroke="#363636" stroke-width="0.06" textLength="13.90" lengthAdjust="spacingAndGlyphs">CTRL</text>
<text x="466.00" y="91.37" font-size="6.3" text-anchor="middle" fill="#363636" stroke="#363636" stroke-width="0.06" textLength="30.80" lengthAdjust="spacingAndGlyphs">NFIA-ETO2</text>
<text x="465.50" y="103.93" font-size="6.2" text-anchor="middle" fill="#363636" stroke="#363636" stroke-width="0.06" textLength="25.80" lengthAdjust="spacingAndGlyphs"><tspan font-style="italic">P</tspan> = .0218</text>
<text x="465.30" y="110.87" font-size="6.3" text-anchor="middle" fill="#363636" stroke="#363636" stroke-width="0.06" textLength="13.50" lengthAdjust="spacingAndGlyphs">CTRL</text>
<text x="399.10" y="63.37" font-size="6.3" text-anchor="middle" fill="#363636" stroke="#363636" stroke-width="0.06" textLength="21.00" lengthAdjust="spacingAndGlyphs" transform="rotate(-90 399.10 61.10)">Control</text>
<text x="399.10" y="100.87" font-size="6.3" text-anchor="middle" fill="#363636" stroke="#363636" stroke-width="0.06" textLength="33.80" lengthAdjust="spacingAndGlyphs" transform="rotate(-90 399.10 98.60)">DMSO (2%)</text>
<text transform="translate(7.87,180.50) scale(0.898,1)" x="-0.00" y="0" font-size="10.9" font-weight="bold" fill="#111" stroke="#111" stroke-width="0.55">D</text>
<line x1="44.90" y1="189.80" x2="44.90" y2="282.00" stroke="#2b2b2b" stroke-width="1.3"/>
<line x1="41.90" y1="263.60" x2="44.90" y2="263.60" stroke="#2b2b2b" stroke-width="1"/>
<text x="39.50" y="265.90" font-size="6.4" text-anchor="end" fill="#363636" stroke="#363636" stroke-width="0.06" textLength="8.18" lengthAdjust="spacingAndGlyphs">0.1</text>
<line x1="41.90" y1="245.20" x2="44.90" y2="245.20" stroke="#2b2b2b" stroke-width="1"/>
<text x="39.50" y="247.50" font-size="6.4" text-anchor="end" fill="#363636" stroke="#363636" stroke-width="0.06" textLength="8.18" lengthAdjust="spacingAndGlyphs">0.2</text>
<line x1="41.90" y1="226.80" x2="44.90" y2="226.80" stroke="#2b2b2b" stroke-width="1"/>
<text x="39.50" y="229.10" font-size="6.4" text-anchor="end" fill="#363636" stroke="#363636" stroke-width="0.06" textLength="8.18" lengthAdjust="spacingAndGlyphs">0.3</text>
<line x1="41.90" y1="208.40" x2="44.90" y2="208.40" stroke="#2b2b2b" stroke-width="1"/>
<text x="39.50" y="210.70" font-size="6.4" text-anchor="end" fill="#363636" stroke="#363636" stroke-width="0.06" textLength="8.18" lengthAdjust="spacingAndGlyphs">0.4</text>
<line x1="41.90" y1="190.00" x2="44.90" y2="190.00" stroke="#2b2b2b" stroke-width="1"/>
<text x="39.50" y="192.30" font-size="6.4" text-anchor="end" fill="#363636" stroke="#363636" stroke-width="0.06" textLength="8.18" lengthAdjust="spacingAndGlyphs">0.5</text>
<line x1="44.90" y1="282.00" x2="138.00" y2="282.00" stroke="#2b2b2b" stroke-width="1"/>
<line x1="60.20" y1="282.00" x2="60.20" y2="285.00" stroke="#2b2b2b" stroke-width="1"/>
<line x1="91.90" y1="282.00" x2="91.90" y2="285.00" stroke="#2b2b2b" stroke-width="1"/>
<line x1="123.70" y1="282.00" x2="123.70" y2="285.00" stroke="#2b2b2b" stroke-width="1"/>
<text x="59.30" y="294.80" font-size="6.4" text-anchor="middle" fill="#363636" stroke="#363636" stroke-width="0.06" textLength="17.30" lengthAdjust="spacingAndGlyphs">Hb α1</text>
<text x="91.40" y="294.80" font-size="6.4" text-anchor="middle" fill="#363636" stroke="#363636" stroke-width="0.06" textLength="17.30" lengthAdjust="spacingAndGlyphs">Hb β1</text>
<text x="123.70" y="294.80" font-size="6.4" text-anchor="middle" fill="#363636" stroke="#363636" stroke-width="0.06" textLength="13.50" lengthAdjust="spacingAndGlyphs">Hb γ</text>
<text x="22.60" y="237.17" font-size="6.3" text-anchor="middle" fill="#363636" stroke="#363636" stroke-width="0.06" textLength="38.00" lengthAdjust="spacingAndGlyphs" transform="rotate(-90 22.60 234.90)">mRNA (1/ΔCt)</text>
<circle cx="49.80" cy="195.80" r="1.50" fill="#1a5a78"/>
<text x="55.00" y="198.07" font-size="6.3" text-anchor="start" fill="#363636" stroke="#363636" stroke-width="0.06" textLength="15.13" lengthAdjust="spacingAndGlyphs">CTRL</text>
<circle cx="49.80" cy="205.00" r="1.50" fill="#bb1231"/>
<text x="55.00" y="207.27" font-size="6.3" text-anchor="start" fill="#363636" stroke="#363636" stroke-width="0.06" textLength="30.16" lengthAdjust="spacingAndGlyphs">NFIA-ETO2</text>
<text x="60.00" y="226.63" font-size="6.2" text-anchor="middle" fill="#363636" stroke="#363636" stroke-width="0.06" textLength="24.50" lengthAdjust="spacingAndGlyphs"><tspan font-style="italic">P</tspan> = .0325</text>
<line x1="47.70" y1="229.00" x2="72.20" y2="229.00" stroke="#2b2b2b" stroke-width="0.8"/>
<rect x="48.60" y="247.04" width="7.80" height="34.96" fill="#c6cbe4"/>
<rect x="63.50" y="259.92" width="7.80" height="22.08" fill="#f4cdc4"/>
<rect x="80.30" y="244.28" width="7.80" height="37.72" fill="#c6cbe4"/>
<rect x="95.50" y="266.18" width="7.80" height="15.82" fill="#f4cdc4"/>
<rect x="112.60" y="273.72" width="7.80" height="8.28" fill="#c6cbe4"/>
<rect x="128.10" y="273.72" width="7.80" height="8.28" fill="#f4cdc4"/>
<line x1="52.50" y1="246.49" x2="52.50" y2="247.96" stroke="#222" stroke-width="0.8"/>
<line x1="51.30" y1="246.49" x2="53.70" y2="246.49" stroke="#222" stroke-width="0.8"/>
<line x1="51.30" y1="247.96" x2="53.70" y2="247.96" stroke="#222" stroke-width="0.8"/>
<circle cx="51.30" cy="246.49" r="1.40" fill="#1f4f86"/>
<circle cx="53.70" cy="246.86" r="1.40" fill="#1f4f86"/>
<circle cx="52.50" cy="249.25" r="1.40" fill="#1f4f86"/>
<line x1="67.40" y1="255.32" x2="67.40" y2="262.68" stroke="#222" stroke-width="0.8"/>
<line x1="66.20" y1="255.32" x2="68.60" y2="255.32" stroke="#222" stroke-width="0.8"/>
<line x1="66.20" y1="262.68" x2="68.60" y2="262.68" stroke="#222" stroke-width="0.8"/>
<circle cx="67.40" cy="256.24" r="1.40" fill="#bb1231"/>
<circle cx="67.40" cy="259.00" r="1.40" fill="#bb1231"/>
<circle cx="67.40" cy="261.76" r="1.40" fill="#bb1231"/>
<line x1="84.20" y1="231.40" x2="84.20" y2="257.16" stroke="#222" stroke-width="0.8"/>
<line x1="83.00" y1="231.40" x2="85.40" y2="231.40" stroke="#222" stroke-width="0.8"/>
<line x1="83.00" y1="257.16" x2="85.40" y2="257.16" stroke="#222" stroke-width="0.8"/>
<circle cx="84.20" cy="232.32" r="1.40" fill="#1f3f70"/>
<circle cx="84.20" cy="242.44" r="1.40" fill="#1f3f70"/>
<circle cx="84.20" cy="257.16" r="1.40" fill="#1f3f70"/>
<line x1="99.40" y1="263.60" x2="99.40" y2="268.20" stroke="#222" stroke-width="0.8"/>
<line x1="98.20" y1="263.60" x2="100.60" y2="263.60" stroke="#222" stroke-width="0.8"/>
<line x1="98.20" y1="268.20" x2="100.60" y2="268.20" stroke="#222" stroke-width="0.8"/>
<circle cx="99.40" cy="263.97" r="1.40" fill="#bb1231"/>
<circle cx="99.40" cy="265.81" r="1.40" fill="#bb1231"/>
<circle cx="99.40" cy="267.65" r="1.40" fill="#bb1231"/>
<line x1="116.50" y1="272.43" x2="116.50" y2="274.27" stroke="#222" stroke-width="0.8"/>
<line x1="115.30" y1="272.43" x2="117.70" y2="272.43" stroke="#222" stroke-width="0.8"/>
<line x1="115.30" y1="274.27" x2="117.70" y2="274.27" stroke="#222" stroke-width="0.8"/>
<circle cx="115.20" cy="272.80" r="1.40" fill="#1f4f86"/>
<circle cx="116.50" cy="273.72" r="1.40" fill="#1f4f86"/>
<circle cx="117.80" cy="273.17" r="1.40" fill="#1f4f86"/>
<line x1="132.00" y1="271.33" x2="132.00" y2="274.64" stroke="#222" stroke-width="0.8"/>
<line x1="130.80" y1="271.33" x2="133.20" y2="271.33" stroke="#222" stroke-width="0.8"/>
<line x1="130.80" y1="274.64" x2="133.20" y2="274.64" stroke="#222" stroke-width="0.8"/>
<circle cx="132.00" cy="271.51" r="1.40" fill="#bb1231"/>
<circle cx="130.70" cy="273.72" r="1.40" fill="#bb1231"/>
<circle cx="133.30" cy="273.72" r="1.40" fill="#bb1231"/>
<text transform="translate(176.97,180.60) scale(0.794,1)" x="-0.00" y="0" font-size="10.9" font-weight="bold" fill="#111" stroke="#111" stroke-width="0.55">E</text>
<line x1="210.60" y1="188.70" x2="210.60" y2="283.00" stroke="#2b2b2b" stroke-width="1.3"/>
<line x1="207.60" y1="283.00" x2="210.60" y2="283.00" stroke="#2b2b2b" stroke-width="1"/>
<text x="205.20" y="285.30" font-size="6.4" text-anchor="end" fill="#363636" stroke="#363636" stroke-width="0.06" textLength="3.27" lengthAdjust="spacingAndGlyphs">0</text>
<line x1="207.60" y1="259.50" x2="210.60" y2="259.50" stroke="#2b2b2b" stroke-width="1"/>
<text x="205.20" y="261.80" font-size="6.4" text-anchor="end" fill="#363636" stroke="#363636" stroke-width="0.06" textLength="3.27" lengthAdjust="spacingAndGlyphs">5</text>
<line x1="207.60" y1="236.00" x2="210.60" y2="236.00" stroke="#2b2b2b" stroke-width="1"/>
<text x="205.20" y="238.30" font-size="6.4" text-anchor="end" fill="#363636" stroke="#363636" stroke-width="0.06" textLength="6.55" lengthAdjust="spacingAndGlyphs">10</text>
<line x1="207.60" y1="212.50" x2="210.60" y2="212.50" stroke="#2b2b2b" stroke-width="1"/>
<text x="205.20" y="214.80" font-size="6.4" text-anchor="end" fill="#363636" stroke="#363636" stroke-width="0.06" textLength="6.55" lengthAdjust="spacingAndGlyphs">15</text>
<line x1="207.60" y1="189.00" x2="210.60" y2="189.00" stroke="#2b2b2b" stroke-width="1"/>
<text x="205.20" y="191.30" font-size="6.4" text-anchor="end" fill="#363636" stroke="#363636" stroke-width="0.06" textLength="6.55" lengthAdjust="spacingAndGlyphs">20</text>
<line x1="210.10" y1="282.80" x2="306.30" y2="282.80" stroke="#2b2b2b" stroke-width="1.3"/>
<line x1="222.70" y1="282.80" x2="222.70" y2="285.80" stroke="#2b2b2b" stroke-width="1"/>
<text x="222.70" y="294.60" font-size="6.4" text-anchor="middle" fill="#363636" stroke="#363636" stroke-width="0.06" textLength="3.27" lengthAdjust="spacingAndGlyphs">0</text>
<line x1="246.70" y1="282.80" x2="246.70" y2="285.80" stroke="#2b2b2b" stroke-width="1"/>
<text x="246.70" y="294.60" font-size="6.4" text-anchor="middle" fill="#363636" stroke="#363636" stroke-width="0.06" textLength="3.27" lengthAdjust="spacingAndGlyphs">2</text>
<line x1="270.20" y1="282.80" x2="270.20" y2="285.80" stroke="#2b2b2b" stroke-width="1"/>
<text x="270.20" y="294.60" font-size="6.4" text-anchor="middle" fill="#363636" stroke="#363636" stroke-width="0.06" textLength="3.27" lengthAdjust="spacingAndGlyphs">4</text>
<line x1="294.40" y1="282.80" x2="294.40" y2="285.80" stroke="#2b2b2b" stroke-width="1"/>
<text x="294.40" y="294.64" font-size="6.5" text-anchor="middle" fill="#363636" stroke="#363636" stroke-width="0.06" textLength="3.33" lengthAdjust="spacingAndGlyphs">6</text>
<text x="298.50" y="294.64" font-size="6.5" text-anchor="start" fill="#363636" stroke="#363636" stroke-width="0.06" textLength="15.95" lengthAdjust="spacingAndGlyphs">[days]</text>
<text x="190.40" y="236.77" font-size="6.3" text-anchor="middle" fill="#363636" stroke="#363636" stroke-width="0.06" textLength="53.30" lengthAdjust="spacingAndGlyphs" transform="rotate(-90 190.40 234.50)"># cell (fold increase)</text>
<text x="214.20" y="194.48" font-size="5.5" text-anchor="start" fill="#363636" stroke="#363636" stroke-width="0.06" textLength="8.43" lengthAdjust="spacingAndGlyphs">MM</text>
<line x1="220.80" y1="204.00" x2="229.80" y2="204.00" stroke="#1c3f74" stroke-width="1" stroke-dasharray="2,1.2"/>
<circle cx="225.40" cy="204.00" r="1.40" fill="#1c3f74"/>
<text x="232.70" y="206.27" font-size="6.3" text-anchor="start" fill="#363636" stroke="#363636" stroke-width="0.06" textLength="15.13" lengthAdjust="spacingAndGlyphs">CTRL</text>
<line x1="220.80" y1="213.00" x2="229.80" y2="213.00" stroke="#e06a78" stroke-width="0.8"/>
<rect x="223.90" y="211.50" width="3.00" height="3.00" fill="#b5132b"/>
<text x="232.70" y="215.27" font-size="6.3" text-anchor="start" fill="#363636" stroke="#363636" stroke-width="0.06" textLength="30.16" lengthAdjust="spacingAndGlyphs">NFIA-ETO2</text>
<polyline points="222.70,278.30 246.70,274.07 270.20,268.43 294.40,266.55" fill="none" stroke="#1d3f74" stroke-width="1.2" stroke-linejoin="round" stroke-dasharray="2.2,1.4"/>
<polyline points="222.70,278.30 246.70,267.96 270.20,245.40 294.40,230.83" fill="none" stroke="#e8707c" stroke-width="0.8" stroke-linejoin="round"/>
<line x1="246.70" y1="266.08" x2="246.70" y2="269.84" stroke="#c0203c" stroke-width="0.9"/>
<line x1="245.60" y1="266.08" x2="247.80" y2="266.08" stroke="#c0203c" stroke-width="0.9"/>
<line x1="245.60" y1="269.84" x2="247.80" y2="269.84" stroke="#c0203c" stroke-width="0.9"/>
<line x1="270.20" y1="237.88" x2="270.20" y2="251.04" stroke="#c0203c" stroke-width="0.9"/>
<line x1="269.10" y1="237.88" x2="271.30" y2="237.88" stroke="#c0203c" stroke-width="0.9"/>
<line x1="269.10" y1="251.04" x2="271.30" y2="251.04" stroke="#c0203c" stroke-width="0.9"/>
<line x1="294.40" y1="223.31" x2="294.40" y2="238.35" stroke="#c0203c" stroke-width="0.9"/>
<line x1="293.30" y1="223.31" x2="295.50" y2="223.31" stroke="#c0203c" stroke-width="0.9"/>
<line x1="293.30" y1="238.35" x2="295.50" y2="238.35" stroke="#c0203c" stroke-width="0.9"/>
<line x1="270.20" y1="264.20" x2="270.20" y2="270.78" stroke="#1d3f74" stroke-width="0.9"/>
<line x1="269.10" y1="264.20" x2="271.30" y2="264.20" stroke="#1d3f74" stroke-width="0.9"/>
<line x1="269.10" y1="270.78" x2="271.30" y2="270.78" stroke="#1d3f74" stroke-width="0.9"/>
<line x1="294.40" y1="260.44" x2="294.40" y2="272.19" stroke="#1d3f74" stroke-width="0.9"/>
<line x1="293.30" y1="260.44" x2="295.50" y2="260.44" stroke="#1d3f74" stroke-width="0.9"/>
<line x1="293.30" y1="272.19" x2="295.50" y2="272.19" stroke="#1d3f74" stroke-width="0.9"/>
<circle cx="222.70" cy="278.30" r="1.60" fill="#1d3f74"/>
<circle cx="246.70" cy="274.07" r="1.60" fill="#1d3f74"/>
<circle cx="270.20" cy="268.43" r="1.60" fill="#1d3f74"/>
<circle cx="294.40" cy="266.55" r="1.60" fill="#1d3f74"/>
<rect x="221.00" y="276.13" width="3.40" height="3.40" fill="#b5132b"/>
<rect x="245.00" y="266.26" width="3.40" height="3.40" fill="#b5132b"/>
<rect x="268.50" y="243.70" width="3.40" height="3.40" fill="#b5132b"/>
<rect x="292.70" y="229.13" width="3.40" height="3.40" fill="#b5132b"/>
<text x="268.60" y="230.83" font-size="6.2" text-anchor="middle" fill="#363636" stroke="#363636" stroke-width="0.06" textLength="24.50" lengthAdjust="spacingAndGlyphs"><tspan font-style="italic">P</tspan> = .0205</text>
<text x="289.70" y="220.23" font-size="6.2" text-anchor="middle" fill="#363636" stroke="#363636" stroke-width="0.06" textLength="24.50" lengthAdjust="spacingAndGlyphs"><tspan font-style="italic">P</tspan> = .0099</text>
<text transform="translate(346.47,180.60) scale(0.806,1)" x="-0.00" y="0" font-size="10.9" font-weight="bold" fill="#111" stroke="#111" stroke-width="0.55">F</text>
<line x1="382.50" y1="188.70" x2="382.50" y2="282.50" stroke="#2b2b2b" stroke-width="1.3"/>
<line x1="379.50" y1="282.50" x2="382.50" y2="282.50" stroke="#2b2b2b" stroke-width="1"/>
<text x="377.10" y="284.80" font-size="6.4" text-anchor="end" fill="#363636" stroke="#363636" stroke-width="0.06" textLength="3.27" lengthAdjust="spacingAndGlyphs">0</text>
<line x1="379.50" y1="259.00" x2="382.50" y2="259.00" stroke="#2b2b2b" stroke-width="1"/>
<text x="377.10" y="261.30" font-size="6.4" text-anchor="end" fill="#363636" stroke="#363636" stroke-width="0.06" textLength="3.27" lengthAdjust="spacingAndGlyphs">5</text>
<line x1="379.50" y1="235.50" x2="382.50" y2="235.50" stroke="#2b2b2b" stroke-width="1"/>
<text x="377.10" y="237.80" font-size="6.4" text-anchor="end" fill="#363636" stroke="#363636" stroke-width="0.06" textLength="6.55" lengthAdjust="spacingAndGlyphs">10</text>
<line x1="379.50" y1="212.00" x2="382.50" y2="212.00" stroke="#2b2b2b" stroke-width="1"/>
<text x="377.10" y="214.30" font-size="6.4" text-anchor="end" fill="#363636" stroke="#363636" stroke-width="0.06" textLength="6.55" lengthAdjust="spacingAndGlyphs">15</text>
<line x1="379.50" y1="188.50" x2="382.50" y2="188.50" stroke="#2b2b2b" stroke-width="1"/>
<text x="377.10" y="190.80" font-size="6.4" text-anchor="end" fill="#363636" stroke="#363636" stroke-width="0.06" textLength="6.55" lengthAdjust="spacingAndGlyphs">20</text>
<line x1="382.00" y1="282.50" x2="478.30" y2="282.50" stroke="#2b2b2b" stroke-width="1.3"/>
<line x1="394.60" y1="282.50" x2="394.60" y2="285.50" stroke="#2b2b2b" stroke-width="1"/>
<text x="394.60" y="294.30" font-size="6.4" text-anchor="middle" fill="#363636" stroke="#363636" stroke-width="0.06" textLength="3.27" lengthAdjust="spacingAndGlyphs">0</text>
<line x1="418.10" y1="282.50" x2="418.10" y2="285.50" stroke="#2b2b2b" stroke-width="1"/>
<text x="418.10" y="294.30" font-size="6.4" text-anchor="middle" fill="#363636" stroke="#363636" stroke-width="0.06" textLength="3.27" lengthAdjust="spacingAndGlyphs">2</text>
<line x1="442.30" y1="282.50" x2="442.30" y2="285.50" stroke="#2b2b2b" stroke-width="1"/>
<text x="442.30" y="294.30" font-size="6.4" text-anchor="middle" fill="#363636" stroke="#363636" stroke-width="0.06" textLength="3.27" lengthAdjust="spacingAndGlyphs">4</text>
<line x1="466.30" y1="282.50" x2="466.30" y2="285.50" stroke="#2b2b2b" stroke-width="1"/>
<text x="466.30" y="294.34" font-size="6.5" text-anchor="middle" fill="#363636" stroke="#363636" stroke-width="0.06" textLength="3.33" lengthAdjust="spacingAndGlyphs">6</text>
<text x="470.50" y="294.34" font-size="6.5" text-anchor="start" fill="#363636" stroke="#363636" stroke-width="0.06" textLength="15.95" lengthAdjust="spacingAndGlyphs">[days]</text>
<text x="362.30" y="236.77" font-size="6.3" text-anchor="middle" fill="#363636" stroke="#363636" stroke-width="0.06" textLength="53.30" lengthAdjust="spacingAndGlyphs" transform="rotate(-90 362.30 234.50)"># cell (fold increase)</text>
<text x="386.30" y="194.48" font-size="5.5" text-anchor="start" fill="#363636" stroke="#363636" stroke-width="0.06" textLength="7.87" lengthAdjust="spacingAndGlyphs">DM</text>
<line x1="393.00" y1="201.70" x2="402.70" y2="201.70" stroke="#1c3f74" stroke-width="1" stroke-dasharray="2,1.2"/>
<circle cx="397.50" cy="201.70" r="1.40" fill="#1c3f74"/>
<text x="405.00" y="203.97" font-size="6.3" text-anchor="start" fill="#363636" stroke="#363636" stroke-width="0.06" textLength="15.13" lengthAdjust="spacingAndGlyphs">CTRL</text>
<line x1="393.00" y1="210.80" x2="402.70" y2="210.80" stroke="#e06a78" stroke-width="0.8"/>
<rect x="396.30" y="209.30" width="3.00" height="3.00" fill="#b5132b"/>
<text x="405.00" y="213.07" font-size="6.3" text-anchor="start" fill="#363636" stroke="#363636" stroke-width="0.06" textLength="30.16" lengthAdjust="spacingAndGlyphs">NFIA-ETO2</text>
<polyline points="394.60,276.86 418.10,275.92 442.30,277.33 466.30,280.15" fill="none" stroke="#1d3f74" stroke-width="1.2" stroke-linejoin="round" stroke-dasharray="2.2,1.4"/>
<polyline points="394.60,276.39 418.10,264.17 442.30,235.50 466.30,209.65" fill="none" stroke="#e8707c" stroke-width="0.8" stroke-linejoin="round"/>
<line x1="418.10" y1="260.41" x2="418.10" y2="267.93" stroke="#c0203c" stroke-width="0.9"/>
<line x1="417.00" y1="260.41" x2="419.20" y2="260.41" stroke="#c0203c" stroke-width="0.9"/>
<line x1="417.00" y1="267.93" x2="419.20" y2="267.93" stroke="#c0203c" stroke-width="0.9"/>
<line x1="442.30" y1="230.33" x2="442.30" y2="240.67" stroke="#c0203c" stroke-width="0.9"/>
<line x1="441.20" y1="230.33" x2="443.40" y2="230.33" stroke="#c0203c" stroke-width="0.9"/>
<line x1="441.20" y1="240.67" x2="443.40" y2="240.67" stroke="#c0203c" stroke-width="0.9"/>
<line x1="466.30" y1="202.60" x2="466.30" y2="216.23" stroke="#c0203c" stroke-width="0.9"/>
<line x1="465.20" y1="202.60" x2="467.40" y2="202.60" stroke="#c0203c" stroke-width="0.9"/>
<line x1="465.20" y1="216.23" x2="467.40" y2="216.23" stroke="#c0203c" stroke-width="0.9"/>
<line x1="418.10" y1="273.10" x2="418.10" y2="278.74" stroke="#1d3f74" stroke-width="0.9"/>
<line x1="417.00" y1="273.10" x2="419.20" y2="273.10" stroke="#1d3f74" stroke-width="0.9"/>
<line x1="417.00" y1="278.74" x2="419.20" y2="278.74" stroke="#1d3f74" stroke-width="0.9"/>
<line x1="466.30" y1="278.27" x2="466.30" y2="282.03" stroke="#1d3f74" stroke-width="0.9"/>
<line x1="465.20" y1="278.27" x2="467.40" y2="278.27" stroke="#1d3f74" stroke-width="0.9"/>
<line x1="465.20" y1="282.03" x2="467.40" y2="282.03" stroke="#1d3f74" stroke-width="0.9"/>
<circle cx="394.60" cy="277.33" r="1.60" fill="#1d3f74"/>
<circle cx="418.10" cy="275.92" r="1.60" fill="#1d3f74"/>
<circle cx="442.30" cy="277.33" r="1.60" fill="#1d3f74"/>
<circle cx="466.30" cy="280.15" r="1.60" fill="#1d3f74"/>
<rect x="392.90" y="274.22" width="3.40" height="3.40" fill="#b5132b"/>
<rect x="416.40" y="262.47" width="3.40" height="3.40" fill="#b5132b"/>
<rect x="440.60" y="233.80" width="3.40" height="3.40" fill="#b5132b"/>
<rect x="464.60" y="207.95" width="3.40" height="3.40" fill="#b5132b"/>
<text x="432.80" y="227.43" font-size="6.2" text-anchor="middle" fill="#363636" stroke="#363636" stroke-width="0.06" textLength="24.50" lengthAdjust="spacingAndGlyphs"><tspan font-style="italic">P</tspan> = .0003</text>
<text x="464.20" y="200.53" font-size="6.2" text-anchor="middle" fill="#363636" stroke="#363636" stroke-width="0.06" textLength="24.50" lengthAdjust="spacingAndGlyphs"><tspan font-style="italic">P</tspan> &lt; .0001</text>
<text transform="translate(7.37,320.30) scale(0.893,1)" x="-0.00" y="0" font-size="10.9" font-weight="bold" fill="#111" stroke="#111" stroke-width="0.55">G</text>
<text x="94.40" y="332.84" font-size="7.6" text-anchor="middle" fill="#333" stroke="#333" stroke-width="0.06" textLength="15.00" lengthAdjust="spacingAndGlyphs">MM</text>
<text x="223.90" y="333.14" font-size="7.6" text-anchor="middle" fill="#333" stroke="#333" stroke-width="0.06" textLength="13.80" lengthAdjust="spacingAndGlyphs">DM</text>
<line x1="55.30" y1="338.00" x2="134.20" y2="338.00" stroke="#777" stroke-width="1.3"/>
<line x1="140.40" y1="338.00" x2="306.50" y2="338.00" stroke="#777" stroke-width="1.3"/>
<text x="94.75" y="345.88" font-size="5.5" text-anchor="middle" fill="#363636" stroke="#363636" stroke-width="0.06" textLength="15.90" lengthAdjust="spacingAndGlyphs">Day 0</text>
<text x="180.60" y="345.88" font-size="5.5" text-anchor="middle" fill="#363636" stroke="#363636" stroke-width="0.06" textLength="16.20" lengthAdjust="spacingAndGlyphs">Day 2</text>
<text x="266.60" y="345.88" font-size="5.5" text-anchor="middle" fill="#363636" stroke="#363636" stroke-width="0.06" textLength="16.20" lengthAdjust="spacingAndGlyphs">Day 4</text>
<text x="47.20" y="385.45" font-size="6.8" text-anchor="middle" fill="#363636" stroke="#363636" stroke-width="0.06" textLength="28.10" lengthAdjust="spacingAndGlyphs" transform="rotate(-90 47.20 383.00)">NFIA-ETO2</text>
<text x="47.00" y="455.45" font-size="6.8" text-anchor="middle" fill="#363636" stroke="#363636" stroke-width="0.06" textLength="12.60" lengthAdjust="spacingAndGlyphs" transform="rotate(-90 47.00 453.00)">CTRL</text>
<rect x="54.80" y="351.40" width="80.00" height="62.80" fill="#fdfcfa"/>
<g clip-path="url(#cl00)">
<circle cx="60.40" cy="378.70" r="4.41" fill="url(#gv)"/>
<circle cx="63.80" cy="365.80" r="3.02" fill="url(#gv)"/>
<circle cx="59.50" cy="369.40" r="2.20" fill="url(#gv)"/>
<circle cx="72.40" cy="358.10" r="2.09" fill="url(#gv)"/>
<circle cx="71.50" cy="363.80" r="2.55" fill="url(#gv)"/>
<circle cx="78.00" cy="364.50" r="2.90" fill="url(#gv)"/>
<circle cx="81.30" cy="367.20" r="2.32" fill="url(#gv)"/>
<circle cx="73.80" cy="371.40" r="3.83" fill="url(#gv)"/>
<circle cx="78.20" cy="375.00" r="2.78" fill="url(#gv)"/>
<circle cx="109.70" cy="354.50" r="4.06" fill="url(#gv)"/>
<circle cx="95.80" cy="374.40" r="2.32" fill="url(#gv)"/>
<circle cx="89.40" cy="379.60" r="2.78" fill="url(#gv)"/>
<circle cx="85.30" cy="383.20" r="3.48" fill="url(#gv)"/>
<circle cx="104.00" cy="382.70" r="2.78" fill="url(#gv)"/>
<circle cx="68.70" cy="387.40" r="3.60" fill="url(#gv)"/>
<circle cx="79.00" cy="393.80" r="3.02" fill="url(#gv)"/>
<circle cx="96.40" cy="395.20" r="3.48" fill="url(#gv)"/>
<circle cx="103.60" cy="403.00" r="2.78" fill="url(#gv)"/>
<circle cx="86.70" cy="405.90" r="3.48" fill="url(#gv)"/>
<circle cx="120.60" cy="365.80" r="3.48" fill="url(#gv)"/>
<circle cx="116.60" cy="370.60" r="2.32" fill="url(#gv)"/>
<circle cx="121.00" cy="372.70" r="2.78" fill="url(#gv)"/>
<circle cx="116.60" cy="376.10" r="2.32" fill="url(#gv)"/>
<circle cx="129.60" cy="382.20" r="4.41" fill="url(#gv)"/>
<circle cx="56.00" cy="411.00" r="1.86" fill="url(#gv)"/>
<circle cx="67.30" cy="412.00" r="2.90" fill="url(#gv)"/>
<circle cx="74.20" cy="413.50" r="2.32" fill="url(#gv)"/>
<circle cx="95.80" cy="412.50" r="1.74" fill="url(#gv)"/>
<circle cx="101.90" cy="413.30" r="2.32" fill="url(#gv)"/>
<circle cx="86.90" cy="411.80" r="2.09" fill="url(#gv)"/>
<ellipse cx="87.30" cy="358.60" rx="3.30" ry="4.20" fill="#6a5cae"/>
<circle cx="128.70" cy="375.30" r="4.00" fill="#d8acd0" opacity="0.9"/>
<circle cx="92.40" cy="383.00" r="1.10" fill="#111a55"/>
<circle cx="93.80" cy="381.00" r="0.90" fill="#111a55"/>
<path d="M55,352 L60,352 L55,355 Z" fill="#2a2a80" />
</g>
<rect x="54.80" y="351.40" width="80.00" height="62.80" fill="none" stroke="#7a7a7a" stroke-width="0.9"/>
<rect x="140.70" y="351.40" width="79.40" height="62.80" fill="#fdfcfa"/>
<g clip-path="url(#cl01)">
<circle cx="153.40" cy="362.60" r="5.20" fill="url(#gp)"/>
<circle cx="147.90" cy="387.90" r="5.00" fill="url(#gp)"/>
<path d="M168.7,357.2 L166.6,362.8 L160.9,367.1 L162.8,371.4 L164.1,374.8 L158.1,380.3 L156.7,386.0 L157.4,390.3 L157.4,396.0 L160.2,400.2 L165.2,404.5 L167.1,417.0 L192.0,417.0 L193.7,404.5 L200.7,400.2 L201.2,396.0 L202.6,390.3 L201.8,386.0 L201.2,380.3 L198.6,374.6 L194.1,369.0 L191.5,364.1 L181.5,357.2 Z" fill="#8494d2" />
<circle cx="173.35" cy="355.11" r="2.54" fill="url(#gb)"/>
<circle cx="171.25" cy="359.84" r="2.84" fill="url(#gb)"/>
<circle cx="176.82" cy="360.47" r="2.54" fill="url(#gb)"/>
<circle cx="183.17" cy="360.39" r="2.82" fill="url(#gb2)"/>
<circle cx="188.95" cy="360.99" r="2.72" fill="url(#gb)"/>
<circle cx="161.89" cy="365.96" r="2.59" fill="url(#gb3)"/>
<circle cx="167.89" cy="366.25" r="2.55" fill="url(#gb2)"/>
<circle cx="173.78" cy="365.39" r="2.80" fill="url(#gb3)"/>
<circle cx="179.40" cy="365.03" r="2.66" fill="url(#gb)"/>
<circle cx="185.38" cy="365.88" r="2.89" fill="url(#gb3)"/>
<circle cx="191.70" cy="365.44" r="2.90" fill="url(#gb)"/>
<circle cx="165.58" cy="370.80" r="2.60" fill="url(#gb3)"/>
<circle cx="171.07" cy="371.34" r="2.99" fill="url(#gb2)"/>
<circle cx="177.29" cy="371.48" r="2.91" fill="url(#gb3)"/>
<circle cx="183.64" cy="370.31" r="2.61" fill="url(#gb)"/>
<circle cx="189.22" cy="370.12" r="3.00" fill="url(#gb)"/>
<circle cx="194.67" cy="370.11" r="2.75" fill="url(#gb2)"/>
<circle cx="162.52" cy="376.63" r="2.91" fill="url(#gb3)"/>
<circle cx="167.86" cy="375.85" r="2.79" fill="url(#gb3)"/>
<circle cx="173.39" cy="375.39" r="2.63" fill="url(#gb)"/>
<circle cx="179.45" cy="376.14" r="2.56" fill="url(#gb)"/>
<circle cx="186.05" cy="376.63" r="2.87" fill="url(#gb)"/>
<circle cx="192.52" cy="376.16" r="2.59" fill="url(#gb2)"/>
<circle cx="198.64" cy="376.14" r="2.78" fill="url(#gb)"/>
<circle cx="158.42" cy="380.64" r="2.71" fill="url(#gb2)"/>
<circle cx="164.97" cy="381.47" r="2.81" fill="url(#gb)"/>
<circle cx="171.63" cy="381.24" r="2.59" fill="url(#gb)"/>
<circle cx="177.36" cy="380.92" r="2.89" fill="url(#gb)"/>
<circle cx="183.27" cy="380.87" r="2.72" fill="url(#gb)"/>
<circle cx="188.80" cy="380.81" r="2.82" fill="url(#gb2)"/>
<circle cx="195.19" cy="381.36" r="2.97" fill="url(#gb)"/>
<circle cx="201.43" cy="381.65" r="2.94" fill="url(#gb)"/>
<circle cx="156.41" cy="386.36" r="2.62" fill="url(#gb2)"/>
<circle cx="161.93" cy="387.01" r="3.09" fill="url(#gb2)"/>
<circle cx="167.41" cy="385.84" r="2.78" fill="url(#gb2)"/>
<circle cx="173.59" cy="386.57" r="3.04" fill="url(#gb)"/>
<circle cx="179.97" cy="386.61" r="2.98" fill="url(#gb)"/>
<circle cx="186.47" cy="385.87" r="2.73" fill="url(#gb)"/>
<circle cx="191.97" cy="385.95" r="2.97" fill="url(#gb2)"/>
<circle cx="197.42" cy="387.02" r="2.93" fill="url(#gb3)"/>
<circle cx="158.48" cy="391.11" r="3.04" fill="url(#gb)"/>
<circle cx="165.16" cy="391.73" r="2.78" fill="url(#gb2)"/>
<circle cx="170.52" cy="391.67" r="2.51" fill="url(#gb)"/>
<circle cx="177.04" cy="392.21" r="2.76" fill="url(#gb)"/>
<circle cx="183.46" cy="391.20" r="2.65" fill="url(#gb2)"/>
<circle cx="189.00" cy="391.97" r="2.70" fill="url(#gb3)"/>
<circle cx="195.47" cy="390.99" r="2.94" fill="url(#gb3)"/>
<circle cx="201.23" cy="392.04" r="2.81" fill="url(#gb)"/>
<circle cx="162.42" cy="396.34" r="2.78" fill="url(#gb)"/>
<circle cx="168.08" cy="396.56" r="2.81" fill="url(#gb3)"/>
<circle cx="174.40" cy="396.25" r="2.84" fill="url(#gb)"/>
<circle cx="179.57" cy="396.16" r="2.56" fill="url(#gb3)"/>
<circle cx="186.09" cy="397.16" r="3.05" fill="url(#gb3)"/>
<circle cx="191.76" cy="397.46" r="2.86" fill="url(#gb)"/>
<circle cx="198.27" cy="396.73" r="2.82" fill="url(#gb3)"/>
<circle cx="165.55" cy="401.58" r="2.77" fill="url(#gb3)"/>
<circle cx="170.47" cy="401.92" r="2.54" fill="url(#gb)"/>
<circle cx="176.90" cy="401.60" r="2.68" fill="url(#gb)"/>
<circle cx="183.56" cy="401.52" r="2.93" fill="url(#gb2)"/>
<circle cx="188.50" cy="402.54" r="3.08" fill="url(#gb)"/>
<circle cx="195.35" cy="401.43" r="3.03" fill="url(#gb)"/>
<circle cx="168.08" cy="407.12" r="2.51" fill="url(#gb2)"/>
<circle cx="174.02" cy="406.91" r="3.08" fill="url(#gb)"/>
<circle cx="180.68" cy="407.60" r="3.08" fill="url(#gb)"/>
<circle cx="185.42" cy="406.88" r="3.04" fill="url(#gb)"/>
<circle cx="191.68" cy="406.68" r="2.75" fill="url(#gb2)"/>
<circle cx="170.32" cy="411.82" r="2.66" fill="url(#gb)"/>
<circle cx="176.39" cy="412.91" r="2.77" fill="url(#gb2)"/>
<circle cx="183.69" cy="412.28" r="3.05" fill="url(#gb)"/>
<circle cx="188.36" cy="412.69" r="3.06" fill="url(#gb)"/>
<circle cx="167.33" cy="417.61" r="3.09" fill="url(#gb3)"/>
<circle cx="173.64" cy="417.53" r="2.89" fill="url(#gb3)"/>
<circle cx="180.22" cy="417.66" r="3.03" fill="url(#gb2)"/>
<circle cx="186.26" cy="418.28" r="2.71" fill="url(#gb)"/>
<circle cx="191.87" cy="417.39" r="2.53" fill="url(#gb)"/>
<circle cx="189.70" cy="372.10" r="4.40" fill="#8f95c6"/>
<circle cx="176.00" cy="388.00" r="3.20" fill="#6f80c8" opacity="0.8"/>
<circle cx="143.20" cy="366.60" r="3.71" fill="url(#gb)"/>
<circle cx="143.20" cy="378.40" r="3.25" fill="url(#gb)"/>
<circle cx="149.10" cy="376.00" r="3.25" fill="url(#gb)"/>
<circle cx="150.30" cy="382.30" r="3.25" fill="url(#gb)"/>
<circle cx="141.50" cy="372.00" r="2.90" fill="url(#gb)"/>
</g>
<rect x="140.70" y="351.40" width="79.40" height="62.80" fill="none" stroke="#7a7a7a" stroke-width="0.9"/>
<rect x="226.90" y="351.40" width="79.60" height="62.80" fill="#fdfcfa"/>
<g clip-path="url(#cl02)">
<circle cx="252.90" cy="353.30" r="2.78" fill="url(#gd4)"/>
<circle cx="253.70" cy="358.00" r="2.78" fill="url(#gd4)"/>
<circle cx="266.40" cy="352.80" r="2.78" fill="url(#gd4)"/>
<circle cx="269.30" cy="357.10" r="1.97" fill="url(#gd4)"/>
<circle cx="275.40" cy="358.00" r="1.97" fill="url(#gd4)"/>
<circle cx="279.70" cy="352.80" r="2.32" fill="url(#gd4)"/>
<circle cx="278.80" cy="357.10" r="1.97" fill="url(#gd4)"/>
<circle cx="248.50" cy="362.30" r="3.25" fill="url(#gd4)"/>
<circle cx="252.90" cy="364.00" r="2.78" fill="url(#gd4)"/>
<circle cx="250.30" cy="367.50" r="3.25" fill="url(#gd4)"/>
<circle cx="246.00" cy="366.60" r="2.78" fill="url(#gd4)"/>
<circle cx="243.40" cy="371.00" r="2.78" fill="url(#gd4)"/>
<circle cx="247.70" cy="373.50" r="2.78" fill="url(#gd4)"/>
<circle cx="252.00" cy="372.70" r="2.78" fill="url(#gd4)"/>
<circle cx="256.30" cy="371.80" r="2.78" fill="url(#gd4)"/>
<circle cx="258.00" cy="377.90" r="2.78" fill="url(#gd4)"/>
<circle cx="251.10" cy="377.00" r="2.32" fill="url(#gd4)"/>
<circle cx="244.20" cy="377.00" r="2.78" fill="url(#gd4)"/>
<circle cx="239.00" cy="377.00" r="2.78" fill="url(#gd4)"/>
<circle cx="234.70" cy="371.80" r="2.78" fill="url(#gd4)"/>
<circle cx="229.50" cy="368.40" r="2.78" fill="url(#gd4)"/>
<circle cx="228.70" cy="373.50" r="2.78" fill="url(#gd4)"/>
<circle cx="231.80" cy="377.90" r="3.60" fill="url(#gd4)"/>
<circle cx="240.80" cy="382.20" r="2.78" fill="url(#gd4)"/>
<circle cx="245.10" cy="382.20" r="1.97" fill="url(#gd4)"/>
<circle cx="239.00" cy="386.50" r="2.78" fill="url(#gd4)"/>
<circle cx="248.50" cy="387.40" r="2.78" fill="url(#gd4)"/>
<circle cx="252.90" cy="386.50" r="2.78" fill="url(#gd4)"/>
<circle cx="247.70" cy="391.70" r="3.25" fill="url(#gd4)"/>
<circle cx="252.90" cy="391.70" r="2.78" fill="url(#gd4)"/>
<circle cx="254.60" cy="396.90" r="2.78" fill="url(#gd4)"/>
<circle cx="247.70" cy="396.90" r="2.78" fill="url(#gd4)"/>
<circle cx="246.00" cy="402.10" r="2.78" fill="url(#gd4)"/>
<circle cx="254.60" cy="403.00" r="3.25" fill="url(#gd4)"/>
<circle cx="249.40" cy="407.30" r="3.25" fill="url(#gd4)"/>
<circle cx="252.90" cy="409.00" r="2.78" fill="url(#gd4)"/>
<circle cx="263.30" cy="411.60" r="2.78" fill="url(#gd4)"/>
<circle cx="268.40" cy="368.40" r="3.25" fill="url(#gd4)"/>
<circle cx="269.30" cy="373.50" r="2.78" fill="url(#gd4)"/>
<circle cx="266.70" cy="374.40" r="1.97" fill="url(#gd4)"/>
<circle cx="271.90" cy="374.40" r="2.32" fill="url(#gd4)"/>
<circle cx="265.80" cy="379.60" r="2.32" fill="url(#gd4)"/>
<circle cx="268.40" cy="379.60" r="2.32" fill="url(#gd4)"/>
<circle cx="271.90" cy="385.70" r="2.32" fill="url(#gd4)"/>
<circle cx="277.10" cy="385.70" r="2.32" fill="url(#gd4)"/>
<circle cx="271.90" cy="390.80" r="2.78" fill="url(#gd4)"/>
<circle cx="277.10" cy="390.80" r="2.32" fill="url(#gd4)"/>
<circle cx="282.30" cy="368.40" r="2.32" fill="url(#gd4)"/>
<circle cx="283.10" cy="373.50" r="2.78" fill="url(#gd4)"/>
<circle cx="281.40" cy="377.00" r="2.32" fill="url(#gd4)"/>
<circle cx="284.90" cy="390.80" r="1.97" fill="url(#gd4)"/>
<circle cx="292.70" cy="367.50" r="2.32" fill="url(#gd4)"/>
<circle cx="296.10" cy="358.80" r="2.78" fill="url(#gd4)"/>
<circle cx="300.40" cy="356.20" r="2.78" fill="url(#gd4)"/>
<circle cx="297.90" cy="363.20" r="2.78" fill="url(#gd4)"/>
<circle cx="302.20" cy="362.30" r="3.25" fill="url(#gd4)"/>
<circle cx="303.00" cy="367.50" r="2.32" fill="url(#gd4)"/>
<circle cx="291.80" cy="388.30" r="2.78" fill="url(#gd4)"/>
<circle cx="296.10" cy="389.10" r="2.78" fill="url(#gd4)"/>
<circle cx="290.90" cy="393.40" r="2.78" fill="url(#gd4)"/>
<circle cx="296.10" cy="395.20" r="2.78" fill="url(#gd4)"/>
<circle cx="301.30" cy="394.30" r="2.78" fill="url(#gd4)"/>
<circle cx="295.30" cy="400.40" r="2.78" fill="url(#gd4)"/>
<circle cx="300.40" cy="400.40" r="2.78" fill="url(#gd4)"/>
<circle cx="297.90" cy="406.40" r="2.78" fill="url(#gd4)"/>
<circle cx="303.00" cy="405.60" r="2.32" fill="url(#gd4)"/>
<circle cx="301.30" cy="411.60" r="2.32" fill="url(#gd4)"/>
<circle cx="288.30" cy="395.20" r="1.97" fill="url(#gd4)"/>
<circle cx="305.00" cy="385.00" r="2.55" fill="url(#gd4)"/>
<circle cx="304.00" cy="398.00" r="2.55" fill="url(#gd4)"/>
<circle cx="233.50" cy="364.00" r="2.55" fill="url(#gd4)"/>
<circle cx="240.00" cy="368.00" r="2.55" fill="url(#gd4)"/>
<circle cx="274.50" cy="365.80" r="2.50" fill="#c8a8d0"/>
<circle cx="265.80" cy="396.00" r="2.40" fill="#d8b8dc"/>
<circle cx="237.00" cy="391.00" r="1.80" fill="#c8b0d8"/>
<rect x="226.90" y="393.40" width="17.30" height="20.80" fill="#dcd6ce" stroke="#555" stroke-width="0.8"/>
<ellipse cx="235.50" cy="403.80" rx="5.80" ry="7.80" fill="#ebe6dc"/>
<line x1="285.70" y1="410.70" x2="292.70" y2="410.70" stroke="#333" stroke-width="0.8"/>
</g>
<rect x="226.90" y="351.40" width="79.60" height="62.80" fill="none" stroke="#7a7a7a" stroke-width="0.9"/>
<rect x="54.80" y="421.40" width="80.00" height="63.10" fill="#fdfcfa"/>
<g clip-path="url(#cl10)">
<circle cx="96.70" cy="427.50" r="4.41" fill="url(#gl)"/>
<circle cx="59.50" cy="450.50" r="4.06" fill="url(#gl)"/>
<circle cx="65.60" cy="447.90" r="3.60" fill="url(#gl)"/>
<circle cx="57.80" cy="447.00" r="2.78" fill="url(#gl)"/>
<circle cx="79.40" cy="445.30" r="3.60" fill="url(#gl)"/>
<circle cx="86.30" cy="446.50" r="4.06" fill="url(#gl)"/>
<circle cx="77.70" cy="452.70" r="3.25" fill="url(#gl)"/>
<circle cx="107.10" cy="464.30" r="4.41" fill="url(#gl)"/>
<circle cx="98.10" cy="471.20" r="3.60" fill="url(#gl)"/>
<circle cx="103.60" cy="477.00" r="3.25" fill="url(#gl)"/>
<circle cx="101.90" cy="483.00" r="1.97" fill="url(#gl)"/>
<circle cx="131.30" cy="453.00" r="3.60" fill="url(#gl)"/>
<circle cx="124.70" cy="484.60" r="1.86" fill="url(#gl)"/>
<ellipse cx="124.70" cy="448.40" rx="3.20" ry="2.00" fill="#8a5a98" transform="rotate(-20 124.70 448.40)"/>
</g>
<rect x="54.80" y="421.40" width="80.00" height="63.10" fill="none" stroke="#7a7a7a" stroke-width="0.9"/>
<rect x="140.70" y="421.40" width="79.40" height="63.10" fill="#fdfcfa"/>
<g clip-path="url(#cl11)">
<circle cx="144.50" cy="424.00" r="3.25" fill="url(#gl)"/>
<circle cx="166.10" cy="424.90" r="2.32" fill="url(#gl)"/>
<circle cx="189.50" cy="437.00" r="3.25" fill="url(#gl)"/>
<circle cx="200.40" cy="449.60" r="2.78" fill="url(#gl)"/>
<circle cx="145.00" cy="454.80" r="3.25" fill="url(#gl)"/>
<circle cx="210.30" cy="463.10" r="2.78" fill="url(#gl)"/>
<circle cx="162.30" cy="471.70" r="3.25" fill="url(#gl)"/>
<circle cx="171.30" cy="472.40" r="2.78" fill="url(#gl)"/>
<circle cx="145.70" cy="482.80" r="2.78" fill="url(#gl)"/>
<circle cx="205.90" cy="479.00" r="3.25" fill="url(#gl)"/>
<circle cx="205.90" cy="484.50" r="2.09" fill="url(#gl)"/>
<circle cx="205.00" cy="463.10" r="1.30" fill="#1a1a50"/>
<circle cx="180.80" cy="464.30" r="1.20" fill="#1a1a50"/>
<circle cx="184.30" cy="465.20" r="1.20" fill="#1a1a50"/>
<circle cx="181.70" cy="471.20" r="1.50" fill="#1a1a50"/>
<circle cx="186.00" cy="471.70" r="1.20" fill="#1a1a50"/>
<circle cx="171.00" cy="480.70" r="1.20" fill="#1a1a50"/>
<circle cx="206.80" cy="435.80" r="3.00" fill="url(#gp)"/>
<circle cx="169.60" cy="442.70" r="3.80" fill="url(#gp)"/>
</g>
<rect x="140.70" y="421.40" width="79.40" height="63.10" fill="none" stroke="#7a7a7a" stroke-width="0.9"/>
<rect x="226.90" y="421.40" width="79.60" height="63.10" fill="#fdfcfa"/>
<g clip-path="url(#cl12)">
<circle cx="299.90" cy="431.40" r="2.80" fill="#3a3380"/>
<circle cx="303.90" cy="441.80" r="1.60" fill="#3a3380"/>
<path d="M229,440 L233,439 L236,441 L234,444 L230,443 Z" fill="#3a3a80" />
<circle cx="242.50" cy="447.00" r="1.40" fill="#d8a8b8"/>
<ellipse cx="255.50" cy="458.30" rx="2.80" ry="3.80" fill="#9a5aa0"/>
<circle cx="271.00" cy="455.70" r="2.00" fill="#2a2a70"/>
<circle cx="295.30" cy="459.10" r="3.20" fill="#a060a8"/>
<circle cx="290.00" cy="456.50" r="1.50" fill="#8a5aa0"/>
<circle cx="272.80" cy="470.40" r="1.40" fill="#1a1a50"/>
<circle cx="274.50" cy="469.20" r="1.00" fill="#1a1a50"/>
<circle cx="276.20" cy="475.60" r="1.60" fill="#e0c0d0"/>
<rect x="226.90" y="463.10" width="17.70" height="21.40" fill="#e2ddd6" stroke="#555" stroke-width="0.8"/>
<circle cx="235.20" cy="473.80" r="2.60" fill="#e88870"/>
</g>
<rect x="226.90" y="421.40" width="79.60" height="63.10" fill="none" stroke="#7a7a7a" stroke-width="0.9"/>
<text transform="translate(346.27,320.40) scale(0.860,1)" x="-0.00" y="0" font-size="10.9" font-weight="bold" fill="#111" stroke="#111" stroke-width="0.55">H</text>
<line x1="382.40" y1="344.00" x2="382.40" y2="431.90" stroke="#2b2b2b" stroke-width="1.3"/>
<line x1="379.40" y1="431.90" x2="382.40" y2="431.90" stroke="#2b2b2b" stroke-width="1"/>
<text x="377.20" y="434.20" font-size="6.4" text-anchor="end" fill="#363636" stroke="#363636" stroke-width="0.06" textLength="3.27" lengthAdjust="spacingAndGlyphs">0</text>
<line x1="379.40" y1="410.00" x2="382.40" y2="410.00" stroke="#2b2b2b" stroke-width="1"/>
<text x="377.20" y="412.30" font-size="6.4" text-anchor="end" fill="#363636" stroke="#363636" stroke-width="0.06" textLength="3.27" lengthAdjust="spacingAndGlyphs">1</text>
<line x1="379.40" y1="388.10" x2="382.40" y2="388.10" stroke="#2b2b2b" stroke-width="1"/>
<text x="377.20" y="390.40" font-size="6.4" text-anchor="end" fill="#363636" stroke="#363636" stroke-width="0.06" textLength="3.27" lengthAdjust="spacingAndGlyphs">2</text>
<line x1="379.40" y1="366.20" x2="382.40" y2="366.20" stroke="#2b2b2b" stroke-width="1"/>
<text x="377.20" y="368.50" font-size="6.4" text-anchor="end" fill="#363636" stroke="#363636" stroke-width="0.06" textLength="3.27" lengthAdjust="spacingAndGlyphs">3</text>
<line x1="379.40" y1="344.30" x2="382.40" y2="344.30" stroke="#2b2b2b" stroke-width="1"/>
<text x="377.20" y="346.60" font-size="6.4" text-anchor="end" fill="#363636" stroke="#363636" stroke-width="0.06" textLength="3.27" lengthAdjust="spacingAndGlyphs">4</text>
<line x1="382.00" y1="431.90" x2="474.50" y2="431.90" stroke="#2b2b2b" stroke-width="1.3"/>
<line x1="382.60" y1="431.90" x2="382.60" y2="434.90" stroke="#2b2b2b" stroke-width="1"/>
<text x="382.60" y="444.30" font-size="6.4" text-anchor="middle" fill="#363636" stroke="#363636" stroke-width="0.06" textLength="3.27" lengthAdjust="spacingAndGlyphs">0</text>
<line x1="406.20" y1="431.90" x2="406.20" y2="434.90" stroke="#2b2b2b" stroke-width="1"/>
<text x="406.20" y="444.30" font-size="6.4" text-anchor="middle" fill="#363636" stroke="#363636" stroke-width="0.06" textLength="6.55" lengthAdjust="spacingAndGlyphs">10</text>
<line x1="430.00" y1="431.90" x2="430.00" y2="434.90" stroke="#2b2b2b" stroke-width="1"/>
<text x="430.00" y="444.30" font-size="6.4" text-anchor="middle" fill="#363636" stroke="#363636" stroke-width="0.06" textLength="6.55" lengthAdjust="spacingAndGlyphs">20</text>
<line x1="452.30" y1="431.90" x2="452.30" y2="434.90" stroke="#2b2b2b" stroke-width="1"/>
<text x="452.30" y="444.30" font-size="6.4" text-anchor="middle" fill="#363636" stroke="#363636" stroke-width="0.06" textLength="6.55" lengthAdjust="spacingAndGlyphs">30</text>
<line x1="470.70" y1="431.90" x2="470.70" y2="434.90" stroke="#2b2b2b" stroke-width="1"/>
<text x="470.70" y="444.34" font-size="6.5" text-anchor="middle" fill="#363636" stroke="#363636" stroke-width="0.06" textLength="6.65" lengthAdjust="spacingAndGlyphs">40</text>
<text x="477.30" y="444.34" font-size="6.5" text-anchor="start" fill="#363636" stroke="#363636" stroke-width="0.06" textLength="16.20" lengthAdjust="spacingAndGlyphs">[days]</text>
<text x="366.20" y="389.07" font-size="6.3" text-anchor="middle" fill="#363636" stroke="#363636" stroke-width="0.06" textLength="39.90" lengthAdjust="spacingAndGlyphs" transform="rotate(-90 366.20 386.80)">Cells (x10<tspan dy="-2" font-size="4">6</tspan><tspan dy="2">/ml)</tspan></text>
<polyline points="384.00,431.90 471.00,431.90" fill="none" stroke="#3aa040" stroke-width="1" stroke-linejoin="round"/>
<polyline points="387.70,431.90 415.40,429.05 445.60,431.90" fill="none" stroke="#3a2a6a" stroke-width="1" stroke-linejoin="round"/>
<polyline points="387.70,431.90 415.40,424.67 445.60,416.35 450.10,419.20 454.60,420.29 459.40,421.39 466.40,421.39 471.00,426.21" fill="none" stroke="#45a8dc" stroke-width="1.1" stroke-linejoin="round"/>
<rect x="386.50" y="430.70" width="2.40" height="2.40" fill="#45a8dc"/>
<rect x="414.20" y="423.47" width="2.40" height="2.40" fill="#45a8dc"/>
<rect x="444.40" y="415.15" width="2.40" height="2.40" fill="#45a8dc"/>
<rect x="448.90" y="418.00" width="2.40" height="2.40" fill="#45a8dc"/>
<rect x="453.40" y="419.09" width="2.40" height="2.40" fill="#45a8dc"/>
<rect x="458.20" y="420.19" width="2.40" height="2.40" fill="#45a8dc"/>
<rect x="465.20" y="420.19" width="2.40" height="2.40" fill="#45a8dc"/>
<rect x="469.80" y="425.01" width="2.40" height="2.40" fill="#45a8dc"/>
<polyline points="387.70,431.90 415.40,424.67 445.60,420.95 450.10,417.01 454.60,416.79 459.40,405.84 466.40,380.65 471.00,366.64" fill="none" stroke="#b8143c" stroke-width="1.1" stroke-linejoin="round"/>
<circle cx="387.70" cy="431.90" r="1.45" fill="#b8143c"/>
<circle cx="415.40" cy="424.67" r="1.45" fill="#b8143c"/>
<circle cx="445.60" cy="420.95" r="1.45" fill="#b8143c"/>
<circle cx="450.10" cy="417.01" r="1.45" fill="#b8143c"/>
<circle cx="454.60" cy="416.79" r="1.45" fill="#b8143c"/>
<circle cx="459.40" cy="405.84" r="1.45" fill="#b8143c"/>
<circle cx="466.40" cy="380.65" r="1.45" fill="#b8143c"/>
<circle cx="471.00" cy="366.64" r="1.45" fill="#b8143c"/>
<circle cx="415.40" cy="429.05" r="1.10" fill="#3a2a6a"/>
<circle cx="445.60" cy="431.90" r="1.20" fill="#3a2a6a"/>
<line x1="408.00" y1="453.90" x2="416.90" y2="453.90" stroke="#b8143c" stroke-width="1"/>
<circle cx="413.50" cy="453.90" r="1.20" fill="#b8143c"/>
<text x="420.00" y="456.17" font-size="6.3" text-anchor="start" fill="#363636" stroke="#363636" stroke-width="0.06" textLength="30.16" lengthAdjust="spacingAndGlyphs">NFIA-ETO2</text>
<line x1="408.00" y1="463.23" x2="416.90" y2="463.23" stroke="#3a2a6a" stroke-width="1"/>
<circle cx="413.50" cy="463.23" r="1.20" fill="#3a2a6a"/>
<text x="420.00" y="465.50" font-size="6.3" text-anchor="start" fill="#363636" stroke="#363636" stroke-width="0.06" textLength="13.20" lengthAdjust="spacingAndGlyphs">NFIA</text>
<line x1="408.00" y1="472.56" x2="416.90" y2="472.56" stroke="#45a8dc" stroke-width="1"/>
<circle cx="413.50" cy="472.56" r="1.20" fill="#45a8dc"/>
<text x="420.00" y="474.83" font-size="6.3" text-anchor="start" fill="#363636" stroke="#363636" stroke-width="0.06" textLength="15.03" lengthAdjust="spacingAndGlyphs">ETO2</text>
<line x1="408.00" y1="481.89" x2="416.90" y2="481.89" stroke="#3aa040" stroke-width="1"/>
<circle cx="413.50" cy="481.89" r="1.20" fill="#3aa040"/>
<text x="420.00" y="484.16" font-size="6.3" text-anchor="start" fill="#363636" stroke="#363636" stroke-width="0.06" textLength="15.13" lengthAdjust="spacingAndGlyphs">CTRL</text>
<text transform="translate(7.76,509.60) scale(0.584,1)" x="-0.00" y="0" font-size="10.9" font-weight="bold" fill="#111" stroke="#111" stroke-width="0.55">I</text>
<line x1="44.60" y1="517.50" x2="44.60" y2="609.70" stroke="#2b2b2b" stroke-width="1"/>
<line x1="41.60" y1="519.40" x2="44.60" y2="519.40" stroke="#2b2b2b" stroke-width="1"/>
<text x="40.00" y="521.67" font-size="6.3" text-anchor="end" fill="#363636" stroke="#363636" stroke-width="0.06" textLength="8.06" lengthAdjust="spacingAndGlyphs">0.3</text>
<line x1="41.60" y1="549.50" x2="44.60" y2="549.50" stroke="#2b2b2b" stroke-width="1"/>
<text x="40.00" y="551.77" font-size="6.3" text-anchor="end" fill="#363636" stroke="#363636" stroke-width="0.06" textLength="8.06" lengthAdjust="spacingAndGlyphs">0.2</text>
<line x1="41.60" y1="579.60" x2="44.60" y2="579.60" stroke="#2b2b2b" stroke-width="1"/>
<text x="40.00" y="581.87" font-size="6.3" text-anchor="end" fill="#363636" stroke="#363636" stroke-width="0.06" textLength="8.06" lengthAdjust="spacingAndGlyphs">0.1</text>
<line x1="41.60" y1="609.70" x2="44.60" y2="609.70" stroke="#2b2b2b" stroke-width="1"/>
<text x="40.00" y="611.97" font-size="6.3" text-anchor="end" fill="#363636" stroke="#363636" stroke-width="0.06" textLength="8.06" lengthAdjust="spacingAndGlyphs">0.0</text>
<line x1="42.60" y1="534.45" x2="44.60" y2="534.45" stroke="#2b2b2b" stroke-width="1"/>
<line x1="42.60" y1="564.55" x2="44.60" y2="564.55" stroke="#2b2b2b" stroke-width="1"/>
<line x1="42.60" y1="594.65" x2="44.60" y2="594.65" stroke="#2b2b2b" stroke-width="1"/>
<line x1="44.60" y1="609.70" x2="131.50" y2="609.70" stroke="#2b2b2b" stroke-width="1"/>
<text x="25.50" y="565.77" font-size="6.3" text-anchor="middle" fill="#444" stroke="#444" stroke-width="0.06" textLength="61.00" lengthAdjust="spacingAndGlyphs" transform="rotate(-90 25.50 563.50)"><tspan font-style="italic">mHbα1</tspan> mRNA (1/ΔCt)</text>
<line x1="90.90" y1="521.00" x2="90.90" y2="609.50" stroke="#8a8a8a" stroke-width="1.2"/>
<line x1="90.90" y1="609.50" x2="90.90" y2="625.20" stroke="#8a8a8a" stroke-width="1.2" stroke-dasharray="0.7,0.6"/>
<rect x="52.10" y="569.97" width="13.40" height="39.73" fill="#c6cbe4"/>
<line x1="58.80" y1="609.70" x2="58.80" y2="612.30" stroke="#2b2b2b" stroke-width="1"/>
<rect x="73.70" y="590.13" width="13.40" height="19.57" fill="#f4cdc4"/>
<line x1="80.40" y1="609.70" x2="80.40" y2="612.30" stroke="#2b2b2b" stroke-width="1"/>
<rect x="94.80" y="554.02" width="13.40" height="55.68" fill="#c6cbe4"/>
<line x1="101.50" y1="609.70" x2="101.50" y2="612.30" stroke="#2b2b2b" stroke-width="1"/>
<rect x="115.90" y="586.82" width="13.40" height="22.88" fill="#f4cdc4"/>
<line x1="122.60" y1="609.70" x2="122.60" y2="612.30" stroke="#2b2b2b" stroke-width="1"/>
<line x1="58.80" y1="563.05" x2="58.80" y2="575.09" stroke="#222" stroke-width="1.1"/>
<line x1="55.80" y1="563.05" x2="61.80" y2="563.05" stroke="#222" stroke-width="1.1"/>
<line x1="55.80" y1="575.09" x2="61.80" y2="575.09" stroke="#222" stroke-width="1.1"/>
<circle cx="58.80" cy="557.33" r="1.80" fill="#1c3f74"/>
<circle cx="58.80" cy="575.09" r="1.80" fill="#1c3f74"/>
<circle cx="58.80" cy="578.10" r="1.80" fill="#1c3f74"/>
<line x1="80.40" y1="588.63" x2="80.40" y2="591.64" stroke="#222" stroke-width="1.1"/>
<line x1="77.40" y1="588.63" x2="83.40" y2="588.63" stroke="#222" stroke-width="1.1"/>
<line x1="77.40" y1="591.64" x2="83.40" y2="591.64" stroke="#222" stroke-width="1.1"/>
<circle cx="80.40" cy="586.52" r="1.80" fill="#bb1231"/>
<circle cx="77.90" cy="591.64" r="1.80" fill="#bb1231"/>
<circle cx="82.60" cy="591.64" r="1.80" fill="#bb1231"/>
<line x1="101.50" y1="545.89" x2="101.50" y2="561.54" stroke="#222" stroke-width="1.1"/>
<line x1="98.50" y1="545.89" x2="104.50" y2="545.89" stroke="#222" stroke-width="1.1"/>
<line x1="98.50" y1="561.54" x2="104.50" y2="561.54" stroke="#222" stroke-width="1.1"/>
<circle cx="101.50" cy="544.38" r="1.80" fill="#1c3f74"/>
<circle cx="101.50" cy="559.13" r="1.80" fill="#1c3f74"/>
<circle cx="99.20" cy="568.16" r="1.80" fill="#1c3f74"/>
<circle cx="103.80" cy="568.16" r="1.80" fill="#1c3f74"/>
<circle cx="101.50" cy="530.84" r="1.80" fill="#1c3f74"/>
<line x1="122.60" y1="584.12" x2="122.60" y2="588.63" stroke="#222" stroke-width="1.1"/>
<line x1="119.60" y1="584.12" x2="125.60" y2="584.12" stroke="#222" stroke-width="1.1"/>
<line x1="119.60" y1="588.63" x2="125.60" y2="588.63" stroke="#222" stroke-width="1.1"/>
<circle cx="122.60" cy="581.41" r="1.80" fill="#bb1231"/>
<circle cx="120.30" cy="585.62" r="1.80" fill="#bb1231"/>
<circle cx="122.60" cy="585.62" r="1.80" fill="#bb1231"/>
<circle cx="124.90" cy="585.62" r="1.80" fill="#bb1231"/>
<circle cx="123.60" cy="588.63" r="1.80" fill="#bb1231"/>
<circle cx="120.10" cy="591.64" r="1.80" fill="#bb1231"/>
<text x="69.20" y="520.23" font-size="6.2" text-anchor="middle" fill="#363636" stroke="#363636" stroke-width="0.06" textLength="24.50" lengthAdjust="spacingAndGlyphs"><tspan font-style="italic">P</tspan> = .0477</text>
<line x1="51.90" y1="524.60" x2="86.50" y2="524.60" stroke="#2b2b2b" stroke-width="0.9"/>
<text x="112.00" y="520.23" font-size="6.2" text-anchor="middle" fill="#363636" stroke="#363636" stroke-width="0.06" textLength="24.50" lengthAdjust="spacingAndGlyphs"><tspan font-style="italic">P</tspan> = .0136</text>
<line x1="94.30" y1="524.60" x2="129.80" y2="524.60" stroke="#2b2b2b" stroke-width="0.9"/>
<text x="62.80" y="618.00" font-size="6.5" text-anchor="end" fill="#363636" stroke="#363636" stroke-width="0.06" textLength="15.62" lengthAdjust="spacingAndGlyphs" transform="rotate(-45 62.80 618.00)">CTRL</text>
<text x="84.40" y="618.00" font-size="6.5" text-anchor="end" fill="#363636" stroke="#363636" stroke-width="0.06" textLength="36.00" lengthAdjust="spacingAndGlyphs" transform="rotate(-45 84.40 618.00)">NFIA-ETO2</text>
<text x="105.50" y="618.00" font-size="6.5" text-anchor="end" fill="#363636" stroke="#363636" stroke-width="0.06" textLength="15.62" lengthAdjust="spacingAndGlyphs" transform="rotate(-45 105.50 618.00)">CTRL</text>
<text x="126.60" y="618.00" font-size="6.5" text-anchor="end" fill="#363636" stroke="#363636" stroke-width="0.06" textLength="36.00" lengthAdjust="spacingAndGlyphs" transform="rotate(-45 126.60 618.00)">NFIA-ETO2</text>
<text x="69.20" y="653.32" font-size="9.5" text-anchor="middle" fill="#222" stroke="#222" stroke-width="0.06">MM</text>
<text x="111.60" y="653.32" font-size="9.5" text-anchor="middle" fill="#222" stroke="#222" stroke-width="0.06">DM</text>
<text transform="translate(178.06,509.60) scale(0.804,1)" x="-0.00" y="0" font-size="10.9" font-weight="bold" fill="#111" stroke="#111" stroke-width="0.55">J</text>
<line x1="212.40" y1="520.50" x2="212.40" y2="609.20" stroke="#2b2b2b" stroke-width="1"/>
<line x1="209.40" y1="521.50" x2="212.40" y2="521.50" stroke="#2b2b2b" stroke-width="1"/>
<text x="207.80" y="523.77" font-size="6.3" text-anchor="end" fill="#363636" stroke="#363636" stroke-width="0.06" textLength="8.06" lengthAdjust="spacingAndGlyphs">1.0</text>
<line x1="209.40" y1="565.20" x2="212.40" y2="565.20" stroke="#2b2b2b" stroke-width="1"/>
<text x="207.80" y="567.47" font-size="6.3" text-anchor="end" fill="#363636" stroke="#363636" stroke-width="0.06" textLength="8.06" lengthAdjust="spacingAndGlyphs">0.5</text>
<line x1="209.40" y1="608.90" x2="212.40" y2="608.90" stroke="#2b2b2b" stroke-width="1"/>
<text x="207.80" y="611.17" font-size="6.3" text-anchor="end" fill="#363636" stroke="#363636" stroke-width="0.06" textLength="8.06" lengthAdjust="spacingAndGlyphs">0.0</text>
<line x1="210.40" y1="543.35" x2="212.40" y2="543.35" stroke="#2b2b2b" stroke-width="1"/>
<line x1="210.40" y1="587.05" x2="212.40" y2="587.05" stroke="#2b2b2b" stroke-width="1"/>
<line x1="212.40" y1="609.20" x2="299.50" y2="609.20" stroke="#2b2b2b" stroke-width="1"/>
<text x="191.50" y="567.40" font-size="6.1" text-anchor="middle" fill="#444" stroke="#444" stroke-width="0.06" textLength="54.50" lengthAdjust="spacingAndGlyphs" transform="rotate(-90 191.50 565.20)"><tspan font-style="italic">GypA</tspan> mRNA (1/ΔCt)</text>
<line x1="258.60" y1="521.00" x2="258.60" y2="609.20" stroke="#8a8a8a" stroke-width="1.2"/>
<line x1="258.60" y1="609.20" x2="258.60" y2="625.20" stroke="#8a8a8a" stroke-width="1.2" stroke-dasharray="0.7,0.6"/>
<rect x="220.20" y="588.10" width="13.60" height="20.80" fill="#c6cbe4"/>
<line x1="227.00" y1="609.20" x2="227.00" y2="611.80" stroke="#2b2b2b" stroke-width="1"/>
<rect x="241.50" y="595.96" width="13.60" height="12.94" fill="#f4cdc4"/>
<line x1="248.30" y1="609.20" x2="248.30" y2="611.80" stroke="#2b2b2b" stroke-width="1"/>
<rect x="262.80" y="552.53" width="13.60" height="56.37" fill="#c6cbe4"/>
<line x1="269.60" y1="609.20" x2="269.60" y2="611.80" stroke="#2b2b2b" stroke-width="1"/>
<rect x="284.00" y="591.59" width="13.60" height="17.31" fill="#f4cdc4"/>
<line x1="290.80" y1="609.20" x2="290.80" y2="611.80" stroke="#2b2b2b" stroke-width="1"/>
<line x1="227.00" y1="585.30" x2="227.00" y2="590.55" stroke="#222" stroke-width="1.1"/>
<line x1="224.00" y1="585.30" x2="230.00" y2="585.30" stroke="#222" stroke-width="1.1"/>
<line x1="224.00" y1="590.55" x2="230.00" y2="590.55" stroke="#222" stroke-width="1.1"/>
<circle cx="224.40" cy="585.30" r="1.80" fill="#1c3f74"/>
<circle cx="229.60" cy="584.87" r="1.80" fill="#1c3f74"/>
<circle cx="229.60" cy="587.49" r="1.80" fill="#1c3f74"/>
<circle cx="227.00" cy="592.29" r="1.80" fill="#1c3f74"/>
<line x1="248.30" y1="595.35" x2="248.30" y2="596.66" stroke="#222" stroke-width="1.1"/>
<line x1="245.30" y1="595.35" x2="251.30" y2="595.35" stroke="#222" stroke-width="1.1"/>
<line x1="245.30" y1="596.66" x2="251.30" y2="596.66" stroke="#222" stroke-width="1.1"/>
<circle cx="242.80" cy="596.66" r="1.80" fill="#bb1231"/>
<circle cx="248.30" cy="595.09" r="1.80" fill="#bb1231"/>
<circle cx="253.80" cy="595.96" r="1.80" fill="#bb1231"/>
<line x1="269.60" y1="541.50" x2="269.60" y2="561.40" stroke="#222" stroke-width="1.1"/>
<line x1="266.60" y1="541.50" x2="272.60" y2="541.50" stroke="#222" stroke-width="1.1"/>
<line x1="266.60" y1="561.40" x2="272.60" y2="561.40" stroke="#222" stroke-width="1.1"/>
<circle cx="266.80" cy="539.40" r="1.80" fill="#1c3f74"/>
<circle cx="272.00" cy="537.40" r="1.80" fill="#1c3f74"/>
<circle cx="269.60" cy="549.90" r="1.80" fill="#1c3f74"/>
<circle cx="269.60" cy="580.70" r="1.80" fill="#1c3f74"/>
<line x1="290.80" y1="591.42" x2="290.80" y2="593.17" stroke="#222" stroke-width="1.1"/>
<line x1="287.80" y1="591.42" x2="293.80" y2="591.42" stroke="#222" stroke-width="1.1"/>
<line x1="287.80" y1="593.17" x2="293.80" y2="593.17" stroke="#222" stroke-width="1.1"/>
<circle cx="285.80" cy="591.42" r="1.80" fill="#bb1231"/>
<circle cx="285.80" cy="593.17" r="1.80" fill="#bb1231"/>
<circle cx="289.30" cy="591.42" r="1.80" fill="#bb1231"/>
<circle cx="292.30" cy="592.29" r="1.80" fill="#bb1231"/>
<circle cx="295.80" cy="591.42" r="1.80" fill="#bb1231"/>
<circle cx="295.80" cy="593.17" r="1.80" fill="#bb1231"/>
<text x="279.70" y="519.93" font-size="6.2" text-anchor="middle" fill="#363636" stroke="#363636" stroke-width="0.06" textLength="24.50" lengthAdjust="spacingAndGlyphs"><tspan font-style="italic">P</tspan> = .0241</text>
<line x1="262.00" y1="524.90" x2="297.40" y2="524.90" stroke="#2b2b2b" stroke-width="0.9"/>
<text x="231.00" y="618.00" font-size="6.5" text-anchor="end" fill="#363636" stroke="#363636" stroke-width="0.06" textLength="15.62" lengthAdjust="spacingAndGlyphs" transform="rotate(-45 231.00 618.00)">CTRL</text>
<text x="252.30" y="618.00" font-size="6.5" text-anchor="end" fill="#363636" stroke="#363636" stroke-width="0.06" textLength="36.00" lengthAdjust="spacingAndGlyphs" transform="rotate(-45 252.30 618.00)">NFIA-ETO2</text>
<text x="273.60" y="618.00" font-size="6.5" text-anchor="end" fill="#363636" stroke="#363636" stroke-width="0.06" textLength="15.62" lengthAdjust="spacingAndGlyphs" transform="rotate(-45 273.60 618.00)">CTRL</text>
<text x="294.80" y="618.00" font-size="6.5" text-anchor="end" fill="#363636" stroke="#363636" stroke-width="0.06" textLength="36.00" lengthAdjust="spacingAndGlyphs" transform="rotate(-45 294.80 618.00)">NFIA-ETO2</text>
<text x="239.50" y="653.32" font-size="9.5" text-anchor="middle" fill="#222" stroke="#222" stroke-width="0.06">MM</text>
<text x="282.50" y="653.32" font-size="9.5" text-anchor="middle" fill="#222" stroke="#222" stroke-width="0.06">DM</text>
<text transform="translate(346.37,509.60) scale(0.886,1)" x="-0.00" y="0" font-size="10.9" font-weight="bold" fill="#111" stroke="#111" stroke-width="0.55">K</text>
<line x1="381.90" y1="519.50" x2="381.90" y2="609.90" stroke="#2b2b2b" stroke-width="1"/>
<line x1="378.90" y1="521.70" x2="381.90" y2="521.70" stroke="#2b2b2b" stroke-width="1"/>
<text x="377.30" y="523.97" font-size="6.3" text-anchor="end" fill="#363636" stroke="#363636" stroke-width="0.06" textLength="12.89" lengthAdjust="spacingAndGlyphs">1000</text>
<line x1="378.90" y1="536.40" x2="381.90" y2="536.40" stroke="#2b2b2b" stroke-width="1"/>
<text x="377.30" y="538.67" font-size="6.3" text-anchor="end" fill="#363636" stroke="#363636" stroke-width="0.06" textLength="9.67" lengthAdjust="spacingAndGlyphs">100</text>
<line x1="378.90" y1="551.10" x2="381.90" y2="551.10" stroke="#2b2b2b" stroke-width="1"/>
<text x="377.30" y="553.37" font-size="6.3" text-anchor="end" fill="#363636" stroke="#363636" stroke-width="0.06" textLength="6.45" lengthAdjust="spacingAndGlyphs">10</text>
<line x1="378.90" y1="565.80" x2="381.90" y2="565.80" stroke="#2b2b2b" stroke-width="1"/>
<text x="377.30" y="568.07" font-size="6.3" text-anchor="end" fill="#363636" stroke="#363636" stroke-width="0.06" textLength="3.22" lengthAdjust="spacingAndGlyphs">1</text>
<line x1="378.90" y1="580.50" x2="381.90" y2="580.50" stroke="#2b2b2b" stroke-width="1"/>
<text x="377.30" y="582.77" font-size="6.3" text-anchor="end" fill="#363636" stroke="#363636" stroke-width="0.06" textLength="8.06" lengthAdjust="spacingAndGlyphs">0.1</text>
<line x1="378.90" y1="595.20" x2="381.90" y2="595.20" stroke="#2b2b2b" stroke-width="1"/>
<text x="377.30" y="597.47" font-size="6.3" text-anchor="end" fill="#363636" stroke="#363636" stroke-width="0.06" textLength="11.28" lengthAdjust="spacingAndGlyphs">0.01</text>
<line x1="378.90" y1="609.90" x2="381.90" y2="609.90" stroke="#2b2b2b" stroke-width="1"/>
<text x="377.30" y="612.17" font-size="6.3" text-anchor="end" fill="#363636" stroke="#363636" stroke-width="0.06" textLength="14.50" lengthAdjust="spacingAndGlyphs">0.001</text>
<line x1="381.90" y1="609.90" x2="474.60" y2="609.90" stroke="#2b2b2b" stroke-width="1"/>
<line x1="380.40" y1="531.97" x2="381.90" y2="531.97" stroke="#2b2b2b" stroke-width="0.6"/>
<line x1="380.40" y1="529.39" x2="381.90" y2="529.39" stroke="#2b2b2b" stroke-width="0.6"/>
<line x1="380.40" y1="527.55" x2="381.90" y2="527.55" stroke="#2b2b2b" stroke-width="0.6"/>
<line x1="380.40" y1="526.13" x2="381.90" y2="526.13" stroke="#2b2b2b" stroke-width="0.6"/>
<line x1="380.40" y1="524.96" x2="381.90" y2="524.96" stroke="#2b2b2b" stroke-width="0.6"/>
<line x1="380.40" y1="523.98" x2="381.90" y2="523.98" stroke="#2b2b2b" stroke-width="0.6"/>
<line x1="380.40" y1="523.12" x2="381.90" y2="523.12" stroke="#2b2b2b" stroke-width="0.6"/>
<line x1="380.40" y1="522.37" x2="381.90" y2="522.37" stroke="#2b2b2b" stroke-width="0.6"/>
<line x1="380.40" y1="546.67" x2="381.90" y2="546.67" stroke="#2b2b2b" stroke-width="0.6"/>
<line x1="380.40" y1="544.09" x2="381.90" y2="544.09" stroke="#2b2b2b" stroke-width="0.6"/>
<line x1="380.40" y1="542.25" x2="381.90" y2="542.25" stroke="#2b2b2b" stroke-width="0.6"/>
<line x1="380.40" y1="540.83" x2="381.90" y2="540.83" stroke="#2b2b2b" stroke-width="0.6"/>
<line x1="380.40" y1="539.66" x2="381.90" y2="539.66" stroke="#2b2b2b" stroke-width="0.6"/>
<line x1="380.40" y1="538.68" x2="381.90" y2="538.68" stroke="#2b2b2b" stroke-width="0.6"/>
<line x1="380.40" y1="537.82" x2="381.90" y2="537.82" stroke="#2b2b2b" stroke-width="0.6"/>
<line x1="380.40" y1="537.07" x2="381.90" y2="537.07" stroke="#2b2b2b" stroke-width="0.6"/>
<line x1="380.40" y1="561.37" x2="381.90" y2="561.37" stroke="#2b2b2b" stroke-width="0.6"/>
<line x1="380.40" y1="558.79" x2="381.90" y2="558.79" stroke="#2b2b2b" stroke-width="0.6"/>
<line x1="380.40" y1="556.95" x2="381.90" y2="556.95" stroke="#2b2b2b" stroke-width="0.6"/>
<line x1="380.40" y1="555.53" x2="381.90" y2="555.53" stroke="#2b2b2b" stroke-width="0.6"/>
<line x1="380.40" y1="554.36" x2="381.90" y2="554.36" stroke="#2b2b2b" stroke-width="0.6"/>
<line x1="380.40" y1="553.38" x2="381.90" y2="553.38" stroke="#2b2b2b" stroke-width="0.6"/>
<line x1="380.40" y1="552.52" x2="381.90" y2="552.52" stroke="#2b2b2b" stroke-width="0.6"/>
<line x1="380.40" y1="551.77" x2="381.90" y2="551.77" stroke="#2b2b2b" stroke-width="0.6"/>
<line x1="380.40" y1="576.07" x2="381.90" y2="576.07" stroke="#2b2b2b" stroke-width="0.6"/>
<line x1="380.40" y1="573.49" x2="381.90" y2="573.49" stroke="#2b2b2b" stroke-width="0.6"/>
<line x1="380.40" y1="571.65" x2="381.90" y2="571.65" stroke="#2b2b2b" stroke-width="0.6"/>
<line x1="380.40" y1="570.23" x2="381.90" y2="570.23" stroke="#2b2b2b" stroke-width="0.6"/>
<line x1="380.40" y1="569.06" x2="381.90" y2="569.06" stroke="#2b2b2b" stroke-width="0.6"/>
<line x1="380.40" y1="568.08" x2="381.90" y2="568.08" stroke="#2b2b2b" stroke-width="0.6"/>
<line x1="380.40" y1="567.22" x2="381.90" y2="567.22" stroke="#2b2b2b" stroke-width="0.6"/>
<line x1="380.40" y1="566.47" x2="381.90" y2="566.47" stroke="#2b2b2b" stroke-width="0.6"/>
<line x1="380.40" y1="590.77" x2="381.90" y2="590.77" stroke="#2b2b2b" stroke-width="0.6"/>
<line x1="380.40" y1="588.19" x2="381.90" y2="588.19" stroke="#2b2b2b" stroke-width="0.6"/>
<line x1="380.40" y1="586.35" x2="381.90" y2="586.35" stroke="#2b2b2b" stroke-width="0.6"/>
<line x1="380.40" y1="584.93" x2="381.90" y2="584.93" stroke="#2b2b2b" stroke-width="0.6"/>
<line x1="380.40" y1="583.76" x2="381.90" y2="583.76" stroke="#2b2b2b" stroke-width="0.6"/>
<line x1="380.40" y1="582.78" x2="381.90" y2="582.78" stroke="#2b2b2b" stroke-width="0.6"/>
<line x1="380.40" y1="581.92" x2="381.90" y2="581.92" stroke="#2b2b2b" stroke-width="0.6"/>
<line x1="380.40" y1="581.17" x2="381.90" y2="581.17" stroke="#2b2b2b" stroke-width="0.6"/>
<line x1="380.40" y1="605.47" x2="381.90" y2="605.47" stroke="#2b2b2b" stroke-width="0.6"/>
<line x1="380.40" y1="602.89" x2="381.90" y2="602.89" stroke="#2b2b2b" stroke-width="0.6"/>
<line x1="380.40" y1="601.05" x2="381.90" y2="601.05" stroke="#2b2b2b" stroke-width="0.6"/>
<line x1="380.40" y1="599.63" x2="381.90" y2="599.63" stroke="#2b2b2b" stroke-width="0.6"/>
<line x1="380.40" y1="598.46" x2="381.90" y2="598.46" stroke="#2b2b2b" stroke-width="0.6"/>
<line x1="380.40" y1="597.48" x2="381.90" y2="597.48" stroke="#2b2b2b" stroke-width="0.6"/>
<line x1="380.40" y1="596.62" x2="381.90" y2="596.62" stroke="#2b2b2b" stroke-width="0.6"/>
<line x1="380.40" y1="595.87" x2="381.90" y2="595.87" stroke="#2b2b2b" stroke-width="0.6"/>
<text x="355.00" y="566.26" font-size="6.0" text-anchor="middle" fill="#363636" stroke="#363636" stroke-width="0.06" textLength="38.50" lengthAdjust="spacingAndGlyphs" transform="rotate(-90 355.00 564.10)">Population (%)</text>
<rect x="386.90" y="542.25" width="7.20" height="67.65" fill="#c6cbe4"/>
<rect x="398.90" y="538.24" width="7.20" height="71.66" fill="#f4cdc4"/>
<rect x="418.70" y="541.09" width="7.20" height="68.81" fill="#c6cbe4"/>
<rect x="430.20" y="555.53" width="7.20" height="54.37" fill="#f4cdc4"/>
<rect x="449.90" y="561.37" width="7.20" height="48.53" fill="#c6cbe4"/>
<rect x="461.90" y="576.07" width="7.20" height="33.83" fill="#f4cdc4"/>
<line x1="396.50" y1="609.90" x2="396.50" y2="612.50" stroke="#2b2b2b" stroke-width="1"/>
<line x1="428.00" y1="609.90" x2="428.00" y2="612.50" stroke="#2b2b2b" stroke-width="1"/>
<line x1="459.50" y1="609.90" x2="459.50" y2="612.50" stroke="#2b2b2b" stroke-width="1"/>
<circle cx="389.50" cy="540.22" r="1.70" fill="#1c3f74"/>
<circle cx="388.00" cy="543.10" r="1.70" fill="#1c3f74"/>
<circle cx="391.50" cy="543.48" r="1.70" fill="#1c3f74"/>
<circle cx="394.00" cy="542.92" r="1.70" fill="#1c3f74"/>
<circle cx="399.50" cy="539.66" r="1.70" fill="#bb1231"/>
<circle cx="402.00" cy="537.82" r="1.70" fill="#bb1231"/>
<circle cx="405.00" cy="537.07" r="1.70" fill="#bb1231"/>
<circle cx="404.00" cy="538.68" r="1.70" fill="#bb1231"/>
<circle cx="419.50" cy="540.22" r="1.70" fill="#1c3f74"/>
<circle cx="421.50" cy="541.50" r="1.70" fill="#1c3f74"/>
<circle cx="424.00" cy="540.83" r="1.70" fill="#1c3f74"/>
<circle cx="426.00" cy="541.09" r="1.70" fill="#1c3f74"/>
<circle cx="421.00" cy="539.88" r="1.70" fill="#1c3f74"/>
<circle cx="432.00" cy="550.49" r="1.70" fill="#bb1231"/>
<circle cx="430.50" cy="554.36" r="1.70" fill="#bb1231"/>
<circle cx="434.00" cy="553.85" r="1.70" fill="#bb1231"/>
<circle cx="436.00" cy="555.53" r="1.70" fill="#bb1231"/>
<circle cx="434.00" cy="559.95" r="1.70" fill="#bb1231"/>
<circle cx="431.00" cy="557.80" r="1.70" fill="#bb1231"/>
<circle cx="455.50" cy="555.53" r="1.70" fill="#1c3f74"/>
<circle cx="451.00" cy="558.79" r="1.70" fill="#1c3f74"/>
<circle cx="456.00" cy="564.64" r="1.70" fill="#1c3f74"/>
<circle cx="452.50" cy="581.17" r="1.70" fill="#1c3f74"/>
<circle cx="454.00" cy="559.95" r="1.70" fill="#1c3f74"/>
<circle cx="468.00" cy="570.23" r="1.70" fill="#bb1231"/>
<circle cx="464.00" cy="573.49" r="1.70" fill="#bb1231"/>
<circle cx="466.00" cy="584.93" r="1.70" fill="#bb1231"/>
<circle cx="465.50" cy="595.87" r="1.70" fill="#bb1231"/>
<line x1="453.50" y1="558.37" x2="453.50" y2="564.13" stroke="#222" stroke-width="0.9"/>
<line x1="451.50" y1="558.37" x2="455.50" y2="558.37" stroke="#222" stroke-width="0.9"/>
<line x1="451.50" y1="564.13" x2="455.50" y2="564.13" stroke="#222" stroke-width="0.9"/>
<line x1="465.50" y1="572.88" x2="465.50" y2="579.34" stroke="#222" stroke-width="0.9"/>
<line x1="463.50" y1="572.88" x2="467.50" y2="572.88" stroke="#222" stroke-width="0.9"/>
<line x1="463.50" y1="579.34" x2="467.50" y2="579.34" stroke="#222" stroke-width="0.9"/>
<text x="396.50" y="526.83" font-size="6.2" text-anchor="middle" fill="#363636" stroke="#363636" stroke-width="0.06" textLength="24.50" lengthAdjust="spacingAndGlyphs"><tspan font-style="italic">P</tspan> = .0096</text>
<line x1="386.90" y1="530.80" x2="406.20" y2="530.80" stroke="#2b2b2b" stroke-width="0.9"/>
<text x="428.20" y="526.83" font-size="6.2" text-anchor="middle" fill="#363636" stroke="#363636" stroke-width="0.06" textLength="24.50" lengthAdjust="spacingAndGlyphs"><tspan font-style="italic">P</tspan> = .0044</text>
<line x1="418.70" y1="530.80" x2="437.30" y2="530.80" stroke="#2b2b2b" stroke-width="0.9"/>
<text x="396.80" y="621.45" font-size="6.8" text-anchor="middle" fill="#363636" stroke="#363636" stroke-width="0.06" textLength="20.40" lengthAdjust="spacingAndGlyphs">CD71+</text>
<text x="396.80" y="629.25" font-size="6.8" text-anchor="middle" fill="#363636" stroke="#363636" stroke-width="0.06" textLength="22.90" lengthAdjust="spacingAndGlyphs">Ter119–</text>
<text x="427.60" y="621.45" font-size="6.8" text-anchor="middle" fill="#363636" stroke="#363636" stroke-width="0.06" textLength="20.40" lengthAdjust="spacingAndGlyphs">CD71+</text>
<text x="427.60" y="629.25" font-size="6.8" text-anchor="middle" fill="#363636" stroke="#363636" stroke-width="0.06" textLength="22.90" lengthAdjust="spacingAndGlyphs">Ter119+</text>
<text x="459.70" y="621.45" font-size="6.8" text-anchor="middle" fill="#363636" stroke="#363636" stroke-width="0.06" textLength="20.40" lengthAdjust="spacingAndGlyphs">CD71–</text>
<text x="459.70" y="629.25" font-size="6.8" text-anchor="middle" fill="#363636" stroke="#363636" stroke-width="0.06" textLength="22.90" lengthAdjust="spacingAndGlyphs">Ter119+</text>
<circle cx="478.60" cy="559.40" r="1.50" fill="#1c3f74"/>
<text x="483.20" y="561.67" font-size="6.3" text-anchor="start" fill="#363636" stroke="#363636" stroke-width="0.06" textLength="15.13" lengthAdjust="spacingAndGlyphs">CTRL</text>
<circle cx="478.60" cy="568.30" r="1.50" fill="#bb1231"/>
<text x="483.20" y="570.57" font-size="6.3" text-anchor="start" fill="#363636" stroke="#363636" stroke-width="0.06" textLength="30.16" lengthAdjust="spacingAndGlyphs">NFIA-ETO2</text>
<rect x="0.5" y="0.5" width="519" height="661" fill="none" stroke="#4a4a4a" stroke-width="1"/>
</svg>
</body></html>
